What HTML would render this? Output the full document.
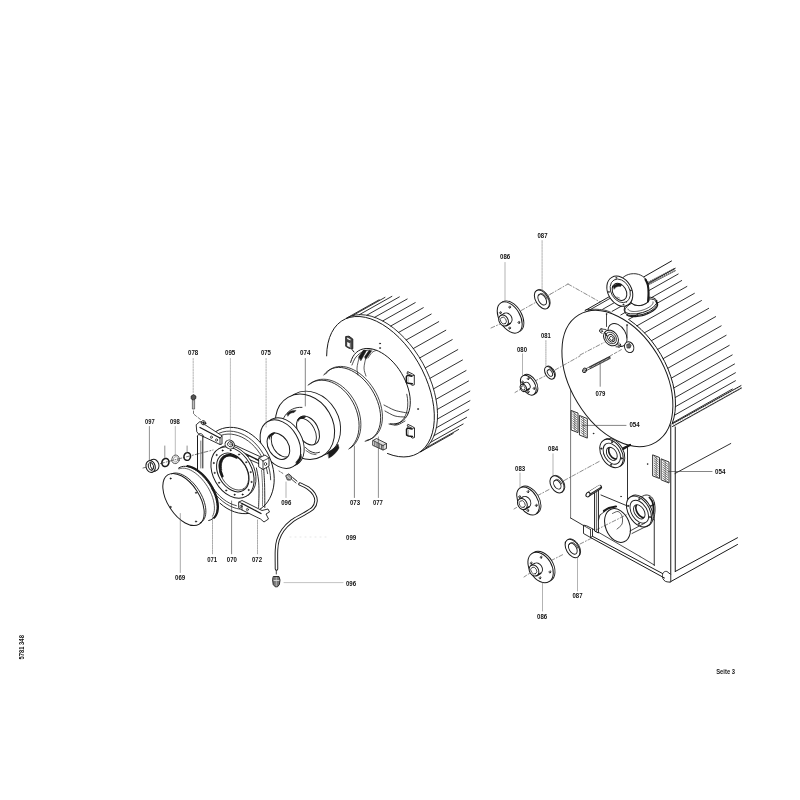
<!DOCTYPE html>
<html><head><meta charset="utf-8"><style>
html,body{margin:0;padding:0;background:#fff;}
svg{display:block;}
text{font-family:"Liberation Sans",sans-serif;}
svg{will-change:transform;}
</style></head><body>
<svg width="800" height="800" viewBox="0 0 800 800" stroke-linecap="round" stroke-linejoin="round">
<rect width="800" height="800" fill="#fff"/>
<line x1="346.66" y1="318.08" x2="379.16" y2="299.78" stroke="#1a1a1a" stroke-width="0.9"/>
<line x1="352.46" y1="315.71" x2="384.96" y2="297.41" stroke="#1a1a1a" stroke-width="0.9"/>
<line x1="359.37" y1="314.67" x2="391.87" y2="296.37" stroke="#1a1a1a" stroke-width="0.9"/>
<line x1="366.83" y1="315.21" x2="399.33" y2="296.91" stroke="#1a1a1a" stroke-width="0.9"/>
<line x1="374.67" y1="317.32" x2="407.17" y2="299.02" stroke="#1a1a1a" stroke-width="0.9"/>
<line x1="382.71" y1="320.94" x2="415.21" y2="302.64" stroke="#1a1a1a" stroke-width="0.9"/>
<line x1="390.77" y1="326.01" x2="423.27" y2="307.71" stroke="#1a1a1a" stroke-width="0.9"/>
<line x1="398.68" y1="332.39" x2="431.18" y2="314.09" stroke="#1a1a1a" stroke-width="0.9"/>
<line x1="406.24" y1="339.96" x2="438.74" y2="321.66" stroke="#1a1a1a" stroke-width="0.9"/>
<line x1="413.3" y1="348.54" x2="445.8" y2="330.24" stroke="#1a1a1a" stroke-width="0.9"/>
<line x1="419.7" y1="357.94" x2="452.2" y2="339.64" stroke="#1a1a1a" stroke-width="0.9"/>
<line x1="425.28" y1="367.94" x2="457.78" y2="349.64" stroke="#1a1a1a" stroke-width="0.9"/>
<line x1="429.93" y1="378.33" x2="462.43" y2="360.03" stroke="#1a1a1a" stroke-width="0.9"/>
<line x1="433.54" y1="388.86" x2="466.04" y2="370.56" stroke="#1a1a1a" stroke-width="0.9"/>
<line x1="436.03" y1="399.3" x2="468.53" y2="381" stroke="#1a1a1a" stroke-width="0.9"/>
<line x1="437.35" y1="409.42" x2="469.85" y2="391.12" stroke="#1a1a1a" stroke-width="0.9"/>
<line x1="437.45" y1="418.99" x2="469.95" y2="400.69" stroke="#1a1a1a" stroke-width="0.9"/>
<line x1="436.35" y1="427.79" x2="468.85" y2="409.49" stroke="#1a1a1a" stroke-width="0.9"/>
<line x1="434.06" y1="435.63" x2="466.56" y2="417.33" stroke="#1a1a1a" stroke-width="0.9"/>
<line x1="430.64" y1="442.32" x2="463.14" y2="424.02" stroke="#1a1a1a" stroke-width="0.9"/>
<line x1="426.17" y1="447.73" x2="458.67" y2="429.43" stroke="#1a1a1a" stroke-width="0.9"/>
<line x1="420.74" y1="451.72" x2="453.24" y2="433.42" stroke="#1a1a1a" stroke-width="0.9"/>
<path d="M326.65,355.87 L327.01,349.35 L327.97,343.24 L329.53,337.63 L331.66,332.57 L334.34,328.12 L337.55,324.34 L341.24,321.26 L345.37,318.92 L349.91,317.34 L354.78,316.55 L359.95,316.55 L365.35,317.35 L370.92,318.92 L376.6,321.27 L382.33,324.35 L388.03,328.14 L393.65,332.58 L399.11,337.64 L404.37,343.26 L409.36,349.36 L414.03,355.89 L418.31,362.76 L422.17,369.91 L425.55,377.24 L428.43,384.69 L430.77,392.15 L432.53,399.55 L433.71,406.81 L434.29,413.84 L434.26,420.57 L433.63,426.91 L432.39,432.79 L430.57,438.16 L428.18,442.94 L425.25,447.09 L421.82,450.56 L417.92,453.31 L413.6,455.3 L408.9,456.52 L403.88,456.95 L398.6,456.58 L393.11,455.43 L387.49,453.5" stroke="#1a1a1a" stroke-width="1.0" fill="none" />
<path d="M346.66,318.08 L350.95,316.18 L355.6,315.03 L360.55,314.65 L365.76,315.04 L371.17,316.2 L376.71,318.1 L382.33,320.74 L387.97,324.08 L393.56,328.09 L399.04,332.72 L404.35,337.92 L409.44,343.64 L414.24,349.81 L418.71,356.36 L422.8,363.23 L426.45,370.33 L429.64,377.6 L432.33,384.94 L434.48,392.28 L436.08,399.54 L437.1,406.64 L437.54,413.51 L437.39,420.06 L436.65,426.22 L435.32,431.93 L433.44,437.13 L431.01,441.75 L428.06,445.76 L424.62,449.09 L420.74,451.72" stroke="#1a1a1a" stroke-width="0.9" fill="none" />
<path d="M350.64,362.44 L351.59,359.48 L352.86,356.81 L354.43,354.48 L356.28,352.49 L358.4,350.88 L360.76,349.67 L363.33,348.86 L366.09,348.47 L369.01,348.5 L372.04,348.95 L375.17,349.81 L378.35,351.08 L381.55,352.75 L384.73,354.78 L387.85,357.16 L390.89,359.87 L393.81,362.87 L396.58,366.13 L399.16,369.62 L401.52,373.29 L403.65,377.1 L405.51,381.02 L407.09,384.99 L408.37,388.98 L409.33,392.93 L409.97,396.81 L410.27,400.57 L410.23,404.17 L409.85,407.58 L409.15,410.74 L408.12,413.63 L406.77,416.21 L405.13,418.46 L403.2,420.35 L401.02,421.86 L398.61,422.97 L395.98,423.68 L393.18,423.96 L390.23,423.83" stroke="#1a1a1a" stroke-width="1.0" fill="none" />
<path d="M406.79,394.25 L407.47,398.33 L407.77,402.28 L407.7,406.05 L407.26,409.6 L406.46,412.87 L405.29,415.84 L403.78,418.46 L401.95,420.7 L399.82,422.53 L397.42,423.94 L394.76,424.89" stroke="#1a1a1a" stroke-width="0.8" fill="none" />
<path d="M358.5,357 L363.5,350 L366.5,350.5 L361,360.5 Z" stroke="#1a1a1a" stroke-width="0.5" fill="#1a1a1a" />
<path d="M364.5,357 L369,350.3 L371.5,351 L366,359 Z" stroke="#1a1a1a" stroke-width="0.5" fill="#1a1a1a" />
<path d="M368,358 C368.67,357.08 370.67,353.75 372,352.5 C373.33,351.25 375.33,350.83 376,350.5" stroke="#1a1a1a" stroke-width="0.7" fill="none" />
<path d="M352,365 C352.67,363.67 354,359.33 356,357 C358,354.67 361.33,352.17 364,351 C366.67,349.83 370.67,350.17 372,350" stroke="#1a1a1a" stroke-width="0.8" fill="none" />
<path d="M359,358 C358.67,359.67 357.17,365.17 357,368 C356.83,370.83 357.83,373.83 358,375" stroke="#1a1a1a" stroke-width="0.7" fill="none" />
<path d="M366,357 C365.67,358.83 364,364.83 364,368 C364,371.17 365.67,374.67 366,376" stroke="#1a1a1a" stroke-width="0.7" fill="none" />
<path d="M384,405 C385.67,405.83 391,408.83 394,410 C397,411.17 399.67,411.5 402,412 C404.33,412.5 407,412.83 408,413" stroke="#1a1a1a" stroke-width="0.8" fill="none" />
<path d="M385,411 C386.67,411.83 391.67,415 395,416 C398.33,417 403.33,416.83 405,417" stroke="#1a1a1a" stroke-width="0.8" fill="none" />
<path d="M389,424 C390.33,424.17 394.33,425.5 397,425 C399.67,424.5 403.67,421.67 405,421" stroke="#1a1a1a" stroke-width="0.8" fill="none" />
<path d="M346,336.5 L349,336.2 L352.8,339 L352.8,348.8 L349.5,348.5 L346,346.5Z" stroke="#1a1a1a" stroke-width="0.9" fill="#444" />
<path d="M347.2,342 L349.8,343.2 L349.8,347.3 L347.2,346Z" stroke="#1a1a1a" stroke-width="0" fill="#fff" />
<path d="M347.2,337.5 L350.5,339.2 L350.5,340.6 L347.2,339Z" stroke="#1a1a1a" stroke-width="0" fill="#fff" />
<line x1="350.6" y1="343" x2="350.6" y2="348.3" stroke="#999" stroke-width="0.6"/>
<line x1="352" y1="349.5" x2="354" y2="352" stroke="#1a1a1a" stroke-width="1.0"/>
<path d="M407.8,371.8 L412.3,373.8 L414.3,375.3 L414.3,384.8 L412.3,385.40000000000003 L410.8,384.3" stroke="#1a1a1a" stroke-width="0.9" fill="none" />
<path d="M407.8,371.8 L406.8,373.3 L412.3,375.6 L414.3,375.3" stroke="#1a1a1a" stroke-width="0.8" fill="none" />
<path d="M411.8,376.3 L407.3,375.3 L406.3,376.8 L406.40000000000003,382.3 L408.3,383.3 L412.3,383.8" stroke="#1a1a1a" stroke-width="1.5" fill="none" />
<line x1="408.2" y1="377.3" x2="408.2" y2="382.3" stroke="#888" stroke-width="0.6"/>
<path d="M408,424.5 L412.5,426.5 L414.5,428.0 L414.5,437.5 L412.5,438.1 L411,437.0" stroke="#1a1a1a" stroke-width="0.9" fill="none" />
<path d="M408,424.5 L407,426.0 L412.5,428.3 L414.5,428.0" stroke="#1a1a1a" stroke-width="0.8" fill="none" />
<path d="M412,429.0 L407.5,428.0 L406.5,429.5 L406.6,435.0 L408.5,436.0 L412.5,436.5" stroke="#1a1a1a" stroke-width="1.5" fill="none" />
<line x1="408.4" y1="430" x2="408.4" y2="435" stroke="#888" stroke-width="0.6"/>
<ellipse cx="380" cy="343.5" rx="0.6" ry="0.6" transform="rotate(0 380 343.5)" stroke="#1a1a1a" stroke-width="0.5" fill="#1a1a1a" />
<ellipse cx="380" cy="348" rx="0.6" ry="0.6" transform="rotate(0 380 348)" stroke="#1a1a1a" stroke-width="0.5" fill="#1a1a1a" />
<ellipse cx="418" cy="409" rx="0.6" ry="0.6" transform="rotate(0 418 409)" stroke="#1a1a1a" stroke-width="0.5" fill="#1a1a1a" />
<path d="M373,440.5 L376.5,438.5 L386.5,443.5 L386.5,448.5 L383,450 L373,445.5Z" stroke="#1a1a1a" stroke-width="0.8" fill="#ddd" />
<line x1="373" y1="440.5" x2="383" y2="445.5" stroke="#1a1a1a" stroke-width="0.7"/>
<line x1="383" y1="445.5" x2="386.5" y2="443.5" stroke="#1a1a1a" stroke-width="0.7"/>
<line x1="383" y1="445.5" x2="383" y2="450" stroke="#1a1a1a" stroke-width="0.7"/>
<line x1="374.8" y1="441.8" x2="374.8" y2="445.5" stroke="#333" stroke-width="0.8"/>
<line x1="377" y1="442.9" x2="377" y2="446.6" stroke="#333" stroke-width="0.8"/>
<line x1="379.2" y1="444" x2="379.2" y2="447.7" stroke="#333" stroke-width="0.8"/>
<line x1="381.4" y1="445.1" x2="381.4" y2="448.8" stroke="#333" stroke-width="0.8"/>
<path d="M323.83,375.03 L325.69,372.78 L327.83,370.9 L330.22,369.41 L332.84,368.32 L335.66,367.65 L338.64,367.4 L341.76,367.57 L344.96,368.17 L348.23,369.19 L351.52,370.62 L354.78,372.43 L358,374.62 L361.12,377.14 L364.11,379.99 L366.94,383.11 L369.58,386.48 L371.99,390.05 L374.15,393.8 L376.03,397.66 L377.61,401.61 L378.88,405.59 L379.81,409.55 L380.4,413.46 L380.64,417.26 L380.52,420.92 L380.06,424.39 L379.25,427.63 L378.11,430.6 L376.64,433.28 L374.86,435.62 L372.8,437.6 L370.48,439.21 L367.92,440.41 L365.15,441.21" stroke="#1a1a1a" stroke-width="0.9" fill="none" />
<path d="M325.63,374.03 L327.49,371.78 L329.63,369.9 L332.02,368.41 L334.64,367.32 L337.46,366.65 L340.44,366.4 L343.56,366.57 L346.76,367.17 L350.03,368.19 L353.32,369.62 L356.58,371.43 L359.8,373.62 L362.92,376.14 L365.91,378.99 L368.74,382.11 L371.38,385.48 L373.79,389.05 L375.95,392.8 L377.83,396.66 L379.41,400.61 L380.68,404.59 L381.61,408.55 L382.2,412.46 L382.44,416.26 L382.32,419.92 L381.86,423.39 L381.05,426.63 L379.91,429.6 L378.44,432.28 L376.66,434.62 L374.6,436.6 L372.28,438.21 L369.72,439.41 L366.95,440.21" stroke="#1a1a1a" stroke-width="0.81" fill="none" />
<path d="M308.1,385.11 L310.49,383.35 L313.09,381.96 L315.87,380.97 L318.8,380.38 L321.86,380.21 L324.99,380.45 L328.17,381.1 L331.37,382.15 L334.54,383.59 L337.64,385.41 L340.65,387.58 L343.53,390.08 L346.25,392.88 L348.77,395.95 L351.07,399.26 L353.12,402.76 L354.89,406.41 L356.37,410.19 L357.55,414.03 L358.39,417.9 L358.91,421.76 L359.09,425.55 L358.92,429.25 L358.42,432.8 L357.58,436.16 L356.42,439.3 L354.95,442.18 L353.19,444.76 L351.15,447.03 L348.86,448.95" stroke="#1a1a1a" stroke-width="0.9" fill="none" />
<path d="M309.9,384.11 L312.29,382.35 L314.89,380.96 L317.67,379.97 L320.6,379.38 L323.66,379.21 L326.79,379.45 L329.97,380.1 L333.17,381.15 L336.34,382.59 L339.44,384.41 L342.45,386.58 L345.33,389.08 L348.05,391.88 L350.57,394.95 L352.87,398.26 L354.92,401.76 L356.69,405.41 L358.17,409.19 L359.35,413.03 L360.19,416.9 L360.71,420.76 L360.89,424.55 L360.72,428.25 L360.22,431.8 L359.38,435.16 L358.22,438.3 L356.75,441.18 L354.99,443.76 L352.95,446.03 L350.66,447.95" stroke="#1a1a1a" stroke-width="0.81" fill="none" />
<ellipse cx="311" cy="423.8" rx="34" ry="28" transform="rotate(60 311 423.8)" stroke="#1a1a1a" stroke-width="0.9" fill="#fff" />
<ellipse cx="305" cy="426.8" rx="34" ry="28" transform="rotate(60 305 426.8)" stroke="#1a1a1a" stroke-width="1.0" fill="#fff" />
<path d="M283.03,419.64 L284.06,417.36 L285.33,415.26 L286.84,413.36 L288.56,411.69 L290.47,410.26 L292.55,409.1 L294.77,408.22 L297.1,407.64 L299.52,407.36 L301.98,407.38" stroke="#1a1a1a" stroke-width="0.9" fill="none" />
<path d="M305.5,447.5 C306.25,448.12 308.33,450.28 310,451.2 C311.67,452.12 313.92,452.83 315.5,453 C317.08,453.17 318.83,452.33 319.5,452.2" stroke="#1a1a1a" stroke-width="0.9" fill="none" />
<path d="M306,450.5 C306.83,451.02 309.33,452.92 311,453.6 C312.67,454.28 315.17,454.43 316,454.6" stroke="#1a1a1a" stroke-width="0.7" fill="none" />
<ellipse cx="308" cy="430.5" rx="15.4" ry="10.2" transform="rotate(62 308 430.5)" stroke="#1a1a1a" stroke-width="1.0" fill="none" />
<clipPath id="c1"><ellipse cx="308" cy="430.5" rx="15.4" ry="10.2" transform="rotate(62 308 430.5)"/></clipPath>
<g clip-path="url(#c1)">
<ellipse cx="304.8" cy="432.7" rx="15.4" ry="10.2" transform="rotate(62 304.8 432.7)" stroke="#1a1a1a" stroke-width="0.9" fill="none" />
</g>
<path d="M297.5,420 C299,416.5 303,415.5 306,416.5 L304,418.5 C301,418 299,419 298.5,421 Z" stroke="#1a1a1a" stroke-width="0.5" fill="#1a1a1a" />
<path d="M287,414 C289,411 293,410 296,410.5 L294,412.5 C291,412.5 289,414 288,416 Z" stroke="#1a1a1a" stroke-width="0.5" fill="#1a1a1a" />
<path d="M328,452 C332,450 336,447 338,444 L339,448 C337,452 333,456 329,458 Z" stroke="#1a1a1a" stroke-width="0.5" fill="#1a1a1a" />
<ellipse cx="283.9" cy="442.1" rx="25.9" ry="18.2" transform="rotate(60.7 283.9 442.1)" stroke="#1a1a1a" stroke-width="0.9" fill="#fff" />
<ellipse cx="280.4" cy="444.1" rx="25.9" ry="18.2" transform="rotate(60.7 280.4 444.1)" stroke="#1a1a1a" stroke-width="1.0" fill="#fff" />
<ellipse cx="278.4" cy="446.2" rx="14.2" ry="10" transform="rotate(57.7 278.4 446.2)" stroke="#1a1a1a" stroke-width="1.0" fill="none" />
<clipPath id="c2"><ellipse cx="278.4" cy="446.2" rx="14.2" ry="10" transform="rotate(57.7 278.4 446.2)"/></clipPath>
<g clip-path="url(#c2)">
<ellipse cx="282.6" cy="443.8" rx="14.2" ry="10" transform="rotate(57.7 282.6 443.8)" stroke="#1a1a1a" stroke-width="0.9" fill="none" />
</g>
<path d="M268.5,437 C270,434 272.5,432.5 275,432.5 L273.5,434.5 C271.5,435 270,436.5 269.5,439 Z" stroke="#1a1a1a" stroke-width="0.5" fill="#1a1a1a" />
<path d="M296,462 C298,460 300,457 301,454 L301.5,457.5 C300.5,460.5 299,463 297,464.5 Z" stroke="#1a1a1a" stroke-width="0.5" fill="#1a1a1a" />
<ellipse cx="237.8" cy="470.5" rx="44.8" ry="34.4" transform="rotate(65.4 237.8 470.5)" stroke="#1a1a1a" stroke-width="0" fill="#fff" />
<path d="M213.06,433.63 L215.98,431.49 L219.15,429.77 L222.52,428.49 L226.06,427.68 L229.73,427.33 L233.48,427.46 L237.29,428.06 L241.1,429.13 L244.87,430.65 L248.57,432.6 L252.14,434.97 L255.56,437.73 L258.79,440.85 L261.78,444.29 L264.52,448.02 L266.96,452 L269.08,456.18 L270.86,460.52 L272.27,464.96 L273.31,469.47 L273.96,473.99 L274.21,478.47 L274.07,482.86 L273.52,487.11 L272.59,491.19 L271.27,495.04 L269.59,498.62 L267.56,501.89 L265.2,504.81 L262.54,507.37 L259.62,509.51 L256.45,511.23 L253.08,512.51 L249.54,513.32 L245.87,513.67 L242.12,513.54 L238.31,512.94 L234.5,511.87 L230.73,510.35 L227.03,508.4 L223.46,506.03 L220.04,503.27" stroke="#1a1a1a" stroke-width="1.0" fill="none" />
<path d="M216.44,434.67 L219.55,433.08 L222.86,431.95 L226.33,431.3 L229.93,431.13 L233.6,431.45 L237.31,432.25 L241.01,433.53 L244.66,435.26 L248.22,437.42 L251.63,440 L254.87,442.96 L257.89,446.27 L260.66,449.88 L263.14,453.75 L265.3,457.84 L267.13,462.1 L268.59,466.47 L269.67,470.92 L270.36,475.37 L270.64,479.78" stroke="#1a1a1a" stroke-width="0.8" fill="none" />
<path d="M221.42,435.21 L224.64,434.41 L227.98,434.07 L231.41,434.17 L234.9,434.72 L238.39,435.72 L241.86,437.15 L245.26,439 L248.54,441.24 L251.68,443.86 L254.63,446.81 L257.37,450.06 L259.85,453.58 L262.06,457.33 L263.96,461.25 L265.53,465.32 L266.76,469.47 L267.63,473.66" stroke="#1a1a1a" stroke-width="0.8" fill="none" />
<path d="M240.05,509.15 L236.53,508.47 L233.01,507.35 L229.52,505.8 L226.12,503.84 L222.83,501.48 L219.69,498.77 L216.74,495.72 L214.01,492.37 L211.54,488.76" stroke="#1a1a1a" stroke-width="0.8" fill="none" />
<path d="M236.36,505.64 L232.97,504.6 L229.61,503.14 L226.32,501.26 L223.13,498.99 L220.09,496.36 L217.23,493.4 L214.59,490.14 L212.19,486.63" stroke="#1a1a1a" stroke-width="0.8" fill="none" />
<path d="M256.4,468 C256.75,470 258.07,476 258.5,480 C258.93,484 258.98,487.42 259,492 C259.02,496.58 258.67,504.92 258.6,507.5" stroke="#1a1a1a" stroke-width="0.9" fill="none" />
<path d="M263.7,469 C263.85,471.67 264.42,478.58 264.6,485 C264.78,491.42 264.77,503.75 264.8,507.5" stroke="#1a1a1a" stroke-width="0.9" fill="none" />
<path d="M261.5,470 C261.67,472.5 262.33,479 262.5,485 C262.67,491 262.5,502.5 262.5,506" stroke="#1a1a1a" stroke-width="0.6" fill="none" />
<path d="M228,442 L262,457.5 L262,465 L232,452Z" stroke="#1a1a1a" stroke-width="0.9" fill="#fff" />
<line x1="231" y1="447" x2="261" y2="461.5" stroke="#1a1a1a" stroke-width="1.4"/>
<ellipse cx="241" cy="453.5" rx="1.1" ry="1.3" transform="rotate(0 241 453.5)" stroke="#1a1a1a" stroke-width="0.7" fill="none" />
<ellipse cx="247" cy="456.5" rx="1.1" ry="1.3" transform="rotate(0 247 456.5)" stroke="#1a1a1a" stroke-width="0.7" fill="none" />
<path d="M259,458 L265,455 L269,458 L269,466 L263,469.5 L259,467Z" stroke="#1a1a1a" stroke-width="0.9" fill="#fff" />
<line x1="259" y1="458" x2="263" y2="461" stroke="#1a1a1a" stroke-width="0.8"/>
<line x1="263" y1="461" x2="269" y2="458" stroke="#1a1a1a" stroke-width="0.8"/>
<line x1="263" y1="461" x2="263" y2="469.5" stroke="#1a1a1a" stroke-width="0.8"/>
<ellipse cx="265.5" cy="464" rx="1.2" ry="1.5" transform="rotate(0 265.5 464)" stroke="#1a1a1a" stroke-width="0.7" fill="none" />
<ellipse cx="234.5" cy="471.3" rx="27.5" ry="19.3" transform="rotate(60.5 234.5 471.3)" stroke="#1a1a1a" stroke-width="0.8" fill="#fff" />
<ellipse cx="232.5" cy="472.5" rx="27.5" ry="19.3" transform="rotate(60.5 232.5 472.5)" stroke="#1a1a1a" stroke-width="1.0" fill="#fff" />
<ellipse cx="232.8" cy="472.5" rx="20.8" ry="14.3" transform="rotate(59.3 232.8 472.5)" stroke="#1a1a1a" stroke-width="1.0" fill="none" />
<ellipse cx="233.8" cy="472.3" rx="19.3" ry="13" transform="rotate(59.3 233.8 472.3)" stroke="#1a1a1a" stroke-width="0.7" fill="none" />
<path d="M222.32,476.2 L221.56,474.32 L220.95,472.43 L220.5,470.55 L220.21,468.69 L220.09,466.87 L220.14,465.13 L220.35,463.48 L220.73,461.93 L221.27,460.51 L221.97,459.24 L222.81,458.12 L223.79,457.17 L224.89,456.41 L226.1,455.84 L227.42,455.46 L228.81,455.29 L230.27,455.32 L231.78,455.56 L233.32,456 L234.88,456.63 L236.43,457.45" stroke="#1a1a1a" stroke-width="2.6" fill="none" />
<path d="M221.72,470.01 L221.47,468.26 L221.38,466.55 L221.44,464.91 L221.65,463.36 L222.02,461.91 L222.53,460.58 L223.18,459.38 L223.97,458.33 L224.88,457.43 L225.9,456.71 L227.03,456.15 L228.26,455.78 L229.56,455.6 L230.92,455.6 L232.34,455.79" stroke="#1a1a1a" stroke-width="0.7" fill="none" />
<ellipse cx="242.59" cy="494.52" rx="0.7" ry="0.7" transform="rotate(0 242.59 494.52)" stroke="#1a1a1a" stroke-width="0.4" fill="#1a1a1a" />
<ellipse cx="234.58" cy="494.7" rx="0.7" ry="0.7" transform="rotate(0 234.58 494.7)" stroke="#1a1a1a" stroke-width="0.4" fill="#1a1a1a" />
<ellipse cx="226.18" cy="490.48" rx="0.7" ry="0.7" transform="rotate(0 226.18 490.48)" stroke="#1a1a1a" stroke-width="0.4" fill="#1a1a1a" />
<ellipse cx="219.05" cy="482.7" rx="0.7" ry="0.7" transform="rotate(0 219.05 482.7)" stroke="#1a1a1a" stroke-width="0.4" fill="#1a1a1a" />
<ellipse cx="214.6" cy="472.9" rx="0.7" ry="0.7" transform="rotate(0 214.6 472.9)" stroke="#1a1a1a" stroke-width="0.4" fill="#1a1a1a" />
<ellipse cx="213.71" cy="463.03" rx="0.7" ry="0.7" transform="rotate(0 213.71 463.03)" stroke="#1a1a1a" stroke-width="0.4" fill="#1a1a1a" />
<ellipse cx="216.57" cy="455.02" rx="0.7" ry="0.7" transform="rotate(0 216.57 455.02)" stroke="#1a1a1a" stroke-width="0.4" fill="#1a1a1a" />
<ellipse cx="222.61" cy="450.48" rx="0.7" ry="0.7" transform="rotate(0 222.61 450.48)" stroke="#1a1a1a" stroke-width="0.4" fill="#1a1a1a" />
<ellipse cx="230.62" cy="450.3" rx="0.7" ry="0.7" transform="rotate(0 230.62 450.3)" stroke="#1a1a1a" stroke-width="0.4" fill="#1a1a1a" />
<ellipse cx="239.02" cy="454.52" rx="0.7" ry="0.7" transform="rotate(0 239.02 454.52)" stroke="#1a1a1a" stroke-width="0.4" fill="#1a1a1a" />
<ellipse cx="246.15" cy="462.3" rx="0.7" ry="0.7" transform="rotate(0 246.15 462.3)" stroke="#1a1a1a" stroke-width="0.4" fill="#1a1a1a" />
<ellipse cx="250.6" cy="472.1" rx="0.7" ry="0.7" transform="rotate(0 250.6 472.1)" stroke="#1a1a1a" stroke-width="0.4" fill="#1a1a1a" />
<ellipse cx="251.49" cy="481.97" rx="0.7" ry="0.7" transform="rotate(0 251.49 481.97)" stroke="#1a1a1a" stroke-width="0.4" fill="#1a1a1a" />
<ellipse cx="248.63" cy="489.98" rx="0.7" ry="0.7" transform="rotate(0 248.63 489.98)" stroke="#1a1a1a" stroke-width="0.4" fill="#1a1a1a" />
<ellipse cx="229.75" cy="444.5" rx="4.8" ry="4.3" transform="rotate(30 229.75 444.5)" stroke="#1a1a1a" stroke-width="0.9" fill="#fff" />
<ellipse cx="230.3" cy="444.3" rx="2.8" ry="2.5" transform="rotate(30 230.3 444.3)" stroke="#1a1a1a" stroke-width="0.8" fill="none" />
<ellipse cx="231" cy="444" rx="1.3" ry="1.2" transform="rotate(30 231 444)" stroke="#1a1a1a" stroke-width="0.6" fill="none" />
<path d="M196.5,424.5 L200,421.5 L220,434.5 L222,436 L222,444 L220,444.5 L199,434.5 L197,432Z" stroke="#1a1a1a" stroke-width="0.9" fill="#fff" />
<line x1="200" y1="427.5" x2="220" y2="438" stroke="#1a1a1a" stroke-width="1.3"/>
<line x1="220" y1="438" x2="222" y2="436" stroke="#1a1a1a" stroke-width="0.8"/>
<line x1="220" y1="438" x2="220" y2="444.5" stroke="#1a1a1a" stroke-width="0.8"/>
<ellipse cx="211.4" cy="437.2" rx="1" ry="1.2" transform="rotate(0 211.4 437.2)" stroke="#1a1a1a" stroke-width="0.7" fill="none" />
<ellipse cx="216.5" cy="440" rx="1" ry="1.2" transform="rotate(0 216.5 440)" stroke="#1a1a1a" stroke-width="0.7" fill="none" />
<ellipse cx="203.5" cy="422.8" rx="2.4" ry="2" transform="rotate(20 203.5 422.8)" stroke="#1a1a1a" stroke-width="0.9" fill="#fff" />
<ellipse cx="203.5" cy="422.8" rx="1" ry="0.8" transform="rotate(20 203.5 422.8)" stroke="#1a1a1a" stroke-width="0.6" fill="#1a1a1a" />
<path d="M197.5,436 L197.5,470" stroke="#1a1a1a" stroke-width="1.0" fill="none" />
<path d="M202.8,436 L202.8,468" stroke="#1a1a1a" stroke-width="1.0" fill="none" />
<path d="M200.8,441 L200.8,468" stroke="#1a1a1a" stroke-width="0.6" fill="none" />
<path d="M197.5,436 C197.83,435.58 198.67,433.75 199.5,433.5 C200.33,433.25 201.83,433.92 202.5,434.5 C203.17,435.08 203.33,436.58 203.5,437" stroke="#1a1a1a" stroke-width="0.8" fill="none" />
<path d="M239,502 L242,500.5 L262,510.5 L268,509 L269.5,512 L266,514 L268.5,519 L264,522 L260.5,519 L242,510 L239,508Z" stroke="#1a1a1a" stroke-width="0.9" fill="#fff" />
<line x1="242" y1="503.5" x2="261" y2="513.5" stroke="#1a1a1a" stroke-width="1.3"/>
<line x1="239" y1="502" x2="242" y2="503.5" stroke="#1a1a1a" stroke-width="0.8"/>
<line x1="242" y1="503.5" x2="242" y2="510" stroke="#1a1a1a" stroke-width="0.8"/>
<ellipse cx="241" cy="506.4" rx="1" ry="1.2" transform="rotate(0 241 506.4)" stroke="#1a1a1a" stroke-width="0.7" fill="none" />
<ellipse cx="247.4" cy="509.6" rx="1" ry="1.2" transform="rotate(0 247.4 509.6)" stroke="#1a1a1a" stroke-width="0.7" fill="none" />
<path d="M178.55,468.16 L180.05,467.26 L181.73,466.66 L183.57,466.35 L185.54,466.35 L187.62,466.65 L189.79,467.25 L192.02,468.15 L194.29,469.33 L196.58,470.78 L198.85,472.48 L201.08,474.42 L203.26,476.57 L205.34,478.91 L207.32,481.42 L209.16,484.06 L210.85,486.8 L212.37,489.62 L213.7,492.49 L214.83,495.36 L215.74,498.22 L216.42,501.02 L216.87,503.74 L217.08,506.34 L217.05,508.8 L216.78,511.09 L216.27,513.18 L215.53,515.05 L214.57,516.68 L213.39,518.05 L212.01,519.15 L210.44,519.96 L208.71,520.47" stroke="#1a1a1a" stroke-width="1.0" fill="none" />
<path d="M187.37,466 L189.47,466.43 L191.65,467.16 L193.88,468.16 L196.13,469.44 L198.39,470.98 L200.63,472.76 L202.82,474.77 L204.94,476.97 L206.97,479.35 L208.88,481.88 L210.65,484.53 L212.27,487.28 L213.72,490.09 L214.97,492.93 L216.02,495.77 L216.86,498.58 L217.47,501.33 L217.85,504 L218,506.54 L217.91,508.93 L217.58,511.15 L217.03,513.17 L216.24,514.97 L215.24,516.53 L214.03,517.84" stroke="#1a1a1a" stroke-width="2.0" fill="none" />
<path d="M178.98,468.93 L180.64,468.39 L182.44,468.16 L184.37,468.23 L186.42,468.6 L188.54,469.27 L190.73,470.23 L192.94,471.46 L195.17,472.96 L197.38,474.71 L199.55,476.69 L201.65,478.87 L203.66,481.22 L205.56,483.73 L207.31,486.37 L208.92,489.09 L210.34,491.88 L211.57,494.69 L212.6,497.51 L213.41,500.28 L213.99,502.99 L214.34,505.6 L214.45,508.08 L214.33,510.4 L213.96,512.54 L213.36,514.47 L212.54,516.17" stroke="#1a1a1a" stroke-width="0.7" fill="none" />
<ellipse cx="183.5" cy="499.5" rx="29.2" ry="15.9" transform="rotate(57.3 183.5 499.5)" stroke="#1a1a1a" stroke-width="1.0" fill="#fff" />
<path d="M171.73,473.78 L173.28,473.27 L174.97,473.04 L176.77,473.09 L178.68,473.42 L180.67,474.01 L182.71,474.88 L184.79,476 L186.88,477.36 L188.96,478.95 L191.01,480.76 L193,482.76 L194.91,484.92 L196.73,487.24 L198.42,489.67 L199.98,492.2 L201.38,494.8 L202.62,497.43 L203.67,500.08 L204.53,502.7 L205.18,505.28 L205.62,507.78 L205.84,510.18 L205.85,512.44 L205.64,514.56 L205.21,516.49 L204.57,518.22 L203.73,519.74 L202.69,521.02 L201.46,522.05 L200.07,522.82" stroke="#1a1a1a" stroke-width="0.9" fill="none" />
<ellipse cx="170.6" cy="478.5" rx="0.8" ry="0.8" transform="rotate(0 170.6 478.5)" stroke="#1a1a1a" stroke-width="0.3" fill="#1a1a1a" />
<ellipse cx="196" cy="492.75" rx="0.8" ry="0.8" transform="rotate(0 196 492.75)" stroke="#1a1a1a" stroke-width="0.3" fill="#1a1a1a" />
<ellipse cx="170.6" cy="507" rx="0.8" ry="0.8" transform="rotate(0 170.6 507)" stroke="#1a1a1a" stroke-width="0.3" fill="#1a1a1a" />
<ellipse cx="196" cy="521.5" rx="0.8" ry="0.8" transform="rotate(0 196 521.5)" stroke="#1a1a1a" stroke-width="0.3" fill="#1a1a1a" />
<line x1="143" y1="468" x2="213" y2="450" stroke="#1a1a1a" stroke-width="0.6" stroke-dasharray="4,2,1,2"/>
<ellipse cx="154.3" cy="465.1" rx="5.9" ry="4.6" transform="rotate(75 154.3 465.1)" stroke="#1a1a1a" stroke-width="1.0" fill="#fff" />
<path d="M152.13,472.2 L155.83,470.8 L152.77,459.4 L149.07,460.8Z" stroke="#1a1a1a" stroke-width="0" fill="#fff" />
<line x1="152.13" y1="472.2" x2="155.83" y2="470.8" stroke="#1a1a1a" stroke-width="1.0"/>
<line x1="149.07" y1="460.8" x2="152.77" y2="459.4" stroke="#1a1a1a" stroke-width="1.0"/>
<ellipse cx="150.6" cy="466.5" rx="5.9" ry="4.6" transform="rotate(75 150.6 466.5)" stroke="#1a1a1a" stroke-width="1.1" fill="#fff" />
<ellipse cx="150.9" cy="466.4" rx="4" ry="2.6" transform="rotate(75 150.9 466.4)" stroke="#1a1a1a" stroke-width="0.9" fill="none" />
<clipPath id="c3"><ellipse cx="150.9" cy="466.4" rx="4" ry="2.6" transform="rotate(75 150.9 466.4)"/></clipPath>
<g clip-path="url(#c3)">
<ellipse cx="153" cy="465.6" rx="4" ry="2.6" transform="rotate(75 153 465.6)" stroke="#1a1a1a" stroke-width="0.9" fill="none" />
</g>
<ellipse cx="165.4" cy="462.5" rx="3.5" ry="4.1" transform="rotate(15 165.4 462.5)" stroke="#1a1a1a" stroke-width="1.6" fill="none" />
<ellipse cx="175.6" cy="459.4" rx="3.7" ry="4.3" transform="rotate(15 175.6 459.4)" stroke="#555" stroke-width="0.9" fill="none" />
<ellipse cx="175.6" cy="459.4" rx="2.2" ry="2.8" transform="rotate(15 175.6 459.4)" stroke="#777" stroke-width="0.6" fill="none" />
<ellipse cx="187.25" cy="456.5" rx="3.3" ry="3.9" transform="rotate(15 187.25 456.5)" stroke="#1a1a1a" stroke-width="1.5" fill="none" />
<path d="M192.4,399 L192.4,409 L194.6,409 L194.6,399" stroke="#333" stroke-width="0.7" fill="#fff" />
<line x1="193.5" y1="400" x2="193.5" y2="408.5" stroke="#777" stroke-width="0.5"/>
<path d="M191.2,398.5 L191.2,396 L193.5,394.6 L195.8,396 L195.8,398.5 L193.5,399.8 Z" stroke="#1a1a1a" stroke-width="0.8" fill="#555" />
<line x1="193.5" y1="411" x2="193.5" y2="413.5" stroke="#1a1a1a" stroke-width="0.6"/>
<line x1="194.3" y1="414.5" x2="196.5" y2="416.4" stroke="#1a1a1a" stroke-width="0.6"/>
<line x1="198" y1="417.5" x2="200.5" y2="419.5" stroke="#1a1a1a" stroke-width="0.6"/>
<path d="M300,484 C301.33,484.67 305.67,486.33 308,488 C310.33,489.67 312.67,491.83 314,494 C315.33,496.17 316.17,498.67 316,501 C315.83,503.33 315,505.83 313,508 C311,510.17 307.5,511.83 304,514 C300.5,516.17 295.5,518.33 292,521 C288.5,523.67 285.33,526.83 283,530 C280.67,533.17 279.08,536.67 278,540 C276.92,543.33 276.75,545.17 276.5,550 C276.25,554.83 276.5,565.83 276.5,569" stroke="#1a1a1a" stroke-width="3.5" fill="none" />
<path d="M300,484 C301.33,484.67 305.67,486.33 308,488 C310.33,489.67 312.67,491.83 314,494 C315.33,496.17 316.17,498.67 316,501 C315.83,503.33 315,505.83 313,508 C311,510.17 307.5,511.83 304,514 C300.5,516.17 295.5,518.33 292,521 C288.5,523.67 285.33,526.83 283,530 C280.67,533.17 279.08,536.67 278,540 C276.92,543.33 276.75,545.17 276.5,550 C276.25,554.83 276.5,565.83 276.5,569" stroke="#fff" stroke-width="1.6" fill="none" />
<path d="M286,475.5 L288.8,473.8 L292.2,477 L290.8,480 L287.8,480Z" stroke="#1a1a1a" stroke-width="0.8" fill="#999" />
<line x1="287.3" y1="476.3" x2="290.3" y2="479" stroke="#fff" stroke-width="0.6"/>
<line x1="293" y1="477.8" x2="297" y2="481.2" stroke="#1a1a1a" stroke-width="1.0"/>
<line x1="292" y1="479.6" x2="296" y2="483" stroke="#1a1a1a" stroke-width="0.8"/>
<line x1="279" y1="471" x2="283" y2="473.5" stroke="#1a1a1a" stroke-width="0.6" stroke-dasharray="1.5,1.5"/>
<line x1="276.3" y1="570.5" x2="276.3" y2="574" stroke="#1a1a1a" stroke-width="0.8"/>
<path d="M273.6,576.5 L279,576.5 L280,580 L279.4,584.5 L277.5,586.8 L275.2,586.8 L273.2,584.5 L272.6,580 Z" stroke="#1a1a1a" stroke-width="0.9" fill="#777" />
<line x1="274" y1="580.5" x2="279" y2="580.5" stroke="#fff" stroke-width="0.7"/>
<line x1="276.3" y1="577.5" x2="276.3" y2="586" stroke="#ddd" stroke-width="0.6"/>
<text x="188" y="355.2" font-size="6.3" textLength="10.2" lengthAdjust="spacingAndGlyphs" fill="#111" font-weight="bold">078</text>
<text x="225" y="355.2" font-size="6.3" textLength="10.3" lengthAdjust="spacingAndGlyphs" fill="#111" font-weight="bold">095</text>
<text x="260.9" y="355.2" font-size="6.3" textLength="10.1" lengthAdjust="spacingAndGlyphs" fill="#111" font-weight="bold">075</text>
<text x="300" y="355.2" font-size="6.3" textLength="10.4" lengthAdjust="spacingAndGlyphs" fill="#111" font-weight="bold">074</text>
<text x="145" y="423.7" font-size="6.3" textLength="9.6" lengthAdjust="spacingAndGlyphs" fill="#111" font-weight="bold">097</text>
<text x="170" y="423.7" font-size="6.3" textLength="9.9" lengthAdjust="spacingAndGlyphs" fill="#111" font-weight="bold">098</text>
<text x="281.2" y="504.8" font-size="6.3" textLength="10.1" lengthAdjust="spacingAndGlyphs" fill="#111" font-weight="bold">096</text>
<text x="350" y="504.8" font-size="6.3" textLength="10.1" lengthAdjust="spacingAndGlyphs" fill="#111" font-weight="bold">073</text>
<text x="372.9" y="504.8" font-size="6.3" textLength="10" lengthAdjust="spacingAndGlyphs" fill="#111" font-weight="bold">077</text>
<text x="346" y="539.6" font-size="6.3" textLength="10.2" lengthAdjust="spacingAndGlyphs" fill="#111" font-weight="bold">099</text>
<text x="207.2" y="561.9" font-size="6.3" textLength="9.9" lengthAdjust="spacingAndGlyphs" fill="#111" font-weight="bold">071</text>
<text x="226.8" y="561.9" font-size="6.3" textLength="10.1" lengthAdjust="spacingAndGlyphs" fill="#111" font-weight="bold">070</text>
<text x="252" y="561.9" font-size="6.3" textLength="10.1" lengthAdjust="spacingAndGlyphs" fill="#111" font-weight="bold">072</text>
<text x="175" y="579.8" font-size="6.3" textLength="10.2" lengthAdjust="spacingAndGlyphs" fill="#111" font-weight="bold">069</text>
<text x="345.9" y="585.6" font-size="6.3" textLength="10.2" lengthAdjust="spacingAndGlyphs" fill="#111" font-weight="bold">096</text>
<line x1="193.2" y1="358.5" x2="193.2" y2="393" stroke="#666" stroke-width="0.5" stroke-dasharray="1.5,1.2"/>
<line x1="230.4" y1="358.5" x2="230.4" y2="439" stroke="#777" stroke-width="0.5" stroke-dasharray="2,1"/>
<line x1="266.1" y1="358.5" x2="266.1" y2="427" stroke="#666" stroke-width="0.5" stroke-dasharray="1.5,1.2"/>
<line x1="305.3" y1="358.5" x2="305.3" y2="406" stroke="#333" stroke-width="0.6"/>
<line x1="149.4" y1="426.5" x2="149.4" y2="460" stroke="#444" stroke-width="0.6"/>
<line x1="164.8" y1="446" x2="164.8" y2="458" stroke="#444" stroke-width="0.6"/>
<line x1="175.3" y1="426.5" x2="175.3" y2="455" stroke="#777" stroke-width="0.5"/>
<line x1="187.1" y1="446" x2="187.1" y2="452" stroke="#444" stroke-width="0.6"/>
<line x1="286" y1="482" x2="286" y2="497.5" stroke="#666" stroke-width="0.5"/>
<line x1="354.4" y1="446" x2="354.4" y2="497.5" stroke="#333" stroke-width="0.6"/>
<line x1="378.4" y1="437" x2="378.4" y2="497.5" stroke="#444" stroke-width="0.6"/>
<line x1="180.3" y1="513.5" x2="180.3" y2="572.5" stroke="#555" stroke-width="0.5"/>
<line x1="212.5" y1="517.5" x2="212.5" y2="553.8" stroke="#555" stroke-width="0.5" stroke-dasharray="1.5,1"/>
<line x1="231.6" y1="501" x2="231.6" y2="553.8" stroke="#333" stroke-width="0.6"/>
<line x1="257.5" y1="520" x2="257.5" y2="553.8" stroke="#555" stroke-width="0.5" stroke-dasharray="1.5,1"/>
<line x1="284" y1="582.6" x2="343" y2="582.6" stroke="#888" stroke-width="0.5"/>
<line x1="290" y1="537" x2="327" y2="537" stroke="#ccc" stroke-width="0.5" stroke-dasharray="1,4"/>
<text x="0" y="0" font-size="6.9" font-weight="bold" fill="#111" transform="translate(24.1,659.6) rotate(-90)" textLength="24.5" lengthAdjust="spacingAndGlyphs">5781 348</text>
<text x="716.2" y="673.6" font-size="7.3" font-weight="bold" fill="#222" textLength="18.8" lengthAdjust="spacingAndGlyphs">Seite 3</text>
<line x1="602.71" y1="309.25" x2="675.09" y2="268.36" stroke="#1a1a1a" stroke-width="0.9"/>
<line x1="612.13" y1="311.34" x2="678.17" y2="274.03" stroke="#1a1a1a" stroke-width="0.9"/>
<line x1="620.82" y1="314.93" x2="681.68" y2="280.55" stroke="#1a1a1a" stroke-width="0.9"/>
<line x1="628.54" y1="319.41" x2="686.88" y2="286.45" stroke="#1a1a1a" stroke-width="0.9"/>
<line x1="637.01" y1="325.78" x2="694.37" y2="293.37" stroke="#1a1a1a" stroke-width="0.9"/>
<line x1="644.46" y1="332.78" x2="701.47" y2="300.57" stroke="#1a1a1a" stroke-width="0.9"/>
<line x1="651.39" y1="340.7" x2="708.67" y2="308.34" stroke="#1a1a1a" stroke-width="0.9"/>
<line x1="657.67" y1="349.39" x2="715.63" y2="316.64" stroke="#1a1a1a" stroke-width="0.9"/>
<line x1="663.16" y1="358.65" x2="721.15" y2="325.88" stroke="#1a1a1a" stroke-width="0.9"/>
<line x1="667.74" y1="368.3" x2="726.1" y2="335.33" stroke="#1a1a1a" stroke-width="0.9"/>
<line x1="671.32" y1="378.13" x2="729.22" y2="345.42" stroke="#1a1a1a" stroke-width="0.9"/>
<line x1="673.83" y1="387.94" x2="732.18" y2="354.97" stroke="#1a1a1a" stroke-width="0.9"/>
<line x1="675.21" y1="397.51" x2="734.5" y2="364.02" stroke="#1a1a1a" stroke-width="0.9"/>
<line x1="675.44" y1="406.66" x2="735.42" y2="372.77" stroke="#1a1a1a" stroke-width="0.9"/>
<line x1="674.5" y1="415.19" x2="735.45" y2="380.75" stroke="#1a1a1a" stroke-width="0.9"/>
<line x1="672.42" y1="422.92" x2="732.42" y2="389.02" stroke="#1a1a1a" stroke-width="0.9"/>
<line x1="585" y1="310.6" x2="671.5" y2="261" stroke="#1a1a1a" stroke-width="1.0"/>
<line x1="587.5" y1="311.2" x2="640" y2="281.3" stroke="#1a1a1a" stroke-width="0.9"/>
<line x1="648.7" y1="281.8" x2="649.5" y2="284" stroke="#1a1a1a" stroke-width="0.6"/>
<line x1="650.6" y1="280.8" x2="651.4" y2="283" stroke="#1a1a1a" stroke-width="0.6"/>
<line x1="652.5" y1="279.8" x2="653.3" y2="282" stroke="#1a1a1a" stroke-width="0.6"/>
<line x1="654.4" y1="278.8" x2="655.2" y2="281" stroke="#1a1a1a" stroke-width="0.6"/>
<line x1="656.3" y1="277.8" x2="657.1" y2="280" stroke="#1a1a1a" stroke-width="0.6"/>
<line x1="658.2" y1="276.8" x2="659" y2="279" stroke="#1a1a1a" stroke-width="0.6"/>
<line x1="660.1" y1="275.8" x2="660.9" y2="278" stroke="#1a1a1a" stroke-width="0.6"/>
<line x1="662" y1="274.8" x2="662.8" y2="277" stroke="#1a1a1a" stroke-width="0.6"/>
<line x1="663.9" y1="273.8" x2="664.7" y2="276" stroke="#1a1a1a" stroke-width="0.6"/>
<line x1="665.8" y1="272.8" x2="666.6" y2="275" stroke="#1a1a1a" stroke-width="0.6"/>
<line x1="667.7" y1="271.8" x2="668.5" y2="274" stroke="#1a1a1a" stroke-width="0.6"/>
<line x1="669.6" y1="270.8" x2="670.4" y2="273" stroke="#1a1a1a" stroke-width="0.6"/>
<line x1="671.5" y1="269.8" x2="672.3" y2="272" stroke="#1a1a1a" stroke-width="0.6"/>
<line x1="673.4" y1="268.8" x2="674.2" y2="271" stroke="#1a1a1a" stroke-width="0.6"/>
<line x1="649" y1="282" x2="675" y2="268.5" stroke="#1a1a1a" stroke-width="0.6"/>
<line x1="649.6" y1="284.2" x2="675.6" y2="270.6" stroke="#1a1a1a" stroke-width="0.6"/>
<line x1="672" y1="424" x2="741" y2="385.6" stroke="#1a1a1a" stroke-width="1.0"/>
<line x1="672.5" y1="426.5" x2="741.5" y2="388" stroke="#1a1a1a" stroke-width="1.0"/>
<line x1="673.5" y1="424.3" x2="674.1" y2="426.1" stroke="#555" stroke-width="0.4"/>
<line x1="675.8" y1="423.02" x2="676.4" y2="424.82" stroke="#555" stroke-width="0.4"/>
<line x1="678.1" y1="421.74" x2="678.7" y2="423.54" stroke="#555" stroke-width="0.4"/>
<line x1="680.4" y1="420.46" x2="681" y2="422.26" stroke="#555" stroke-width="0.4"/>
<line x1="682.7" y1="419.18" x2="683.3" y2="420.98" stroke="#555" stroke-width="0.4"/>
<line x1="685" y1="417.89" x2="685.6" y2="419.69" stroke="#555" stroke-width="0.4"/>
<line x1="687.3" y1="416.61" x2="687.9" y2="418.41" stroke="#555" stroke-width="0.4"/>
<line x1="689.6" y1="415.33" x2="690.2" y2="417.13" stroke="#555" stroke-width="0.4"/>
<line x1="691.9" y1="414.05" x2="692.5" y2="415.85" stroke="#555" stroke-width="0.4"/>
<line x1="694.2" y1="412.77" x2="694.8" y2="414.57" stroke="#555" stroke-width="0.4"/>
<line x1="696.5" y1="411.49" x2="697.1" y2="413.29" stroke="#555" stroke-width="0.4"/>
<line x1="698.8" y1="410.21" x2="699.4" y2="412.01" stroke="#555" stroke-width="0.4"/>
<line x1="701.1" y1="408.93" x2="701.7" y2="410.73" stroke="#555" stroke-width="0.4"/>
<line x1="703.4" y1="407.65" x2="704" y2="409.45" stroke="#555" stroke-width="0.4"/>
<line x1="705.7" y1="406.36" x2="706.3" y2="408.16" stroke="#555" stroke-width="0.4"/>
<line x1="708" y1="405.08" x2="708.6" y2="406.88" stroke="#555" stroke-width="0.4"/>
<line x1="710.3" y1="403.8" x2="710.9" y2="405.6" stroke="#555" stroke-width="0.4"/>
<line x1="712.6" y1="402.52" x2="713.2" y2="404.32" stroke="#555" stroke-width="0.4"/>
<line x1="714.9" y1="401.24" x2="715.5" y2="403.04" stroke="#555" stroke-width="0.4"/>
<line x1="717.2" y1="399.96" x2="717.8" y2="401.76" stroke="#555" stroke-width="0.4"/>
<line x1="719.5" y1="398.68" x2="720.1" y2="400.48" stroke="#555" stroke-width="0.4"/>
<line x1="721.8" y1="397.4" x2="722.4" y2="399.2" stroke="#555" stroke-width="0.4"/>
<line x1="724.1" y1="396.12" x2="724.7" y2="397.92" stroke="#555" stroke-width="0.4"/>
<line x1="726.4" y1="394.83" x2="727" y2="396.63" stroke="#555" stroke-width="0.4"/>
<line x1="728.7" y1="393.55" x2="729.3" y2="395.35" stroke="#555" stroke-width="0.4"/>
<line x1="731" y1="392.27" x2="731.6" y2="394.07" stroke="#555" stroke-width="0.4"/>
<line x1="733.3" y1="390.99" x2="733.9" y2="392.79" stroke="#555" stroke-width="0.4"/>
<line x1="735.6" y1="389.71" x2="736.2" y2="391.51" stroke="#555" stroke-width="0.4"/>
<line x1="737.9" y1="388.43" x2="738.5" y2="390.23" stroke="#555" stroke-width="0.4"/>
<line x1="740.2" y1="387.15" x2="740.8" y2="388.95" stroke="#555" stroke-width="0.4"/>
<line x1="675.25" y1="571.5" x2="737.5" y2="537.75" stroke="#1a1a1a" stroke-width="1.0"/>
<line x1="670" y1="582" x2="737.5" y2="544.5" stroke="#1a1a1a" stroke-width="1.0"/>
<line x1="675" y1="473.5" x2="730.75" y2="443.5" stroke="#1a1a1a" stroke-width="0.9"/>
<line x1="670.75" y1="425" x2="670.75" y2="574.5" stroke="#1a1a1a" stroke-width="1.0"/>
<line x1="675.25" y1="427" x2="675.25" y2="571.5" stroke="#1a1a1a" stroke-width="1.0"/>
<path d="M662.5,575 C662.5,572 665,571 667,571.5 L670.75,574.5 L670.75,582 L668,582 C664.5,582 662.5,579 662.5,577 Z" stroke="#1a1a1a" stroke-width="0.9" fill="#fff" />
<line x1="570.6" y1="388" x2="570.6" y2="518" stroke="#555" stroke-width="0.8"/>
<line x1="570.6" y1="518" x2="583.5" y2="525.5" stroke="#1a1a1a" stroke-width="0.9"/>
<path d="M583.5,525.5 L583.5,533.5 L590.5,537.5 L592.5,536.3 L592.5,528.8 L587,526Z" stroke="#1a1a1a" stroke-width="0.9" fill="#fff" />
<line x1="583.5" y1="525.5" x2="590.5" y2="529.5" stroke="#1a1a1a" stroke-width="0.8"/>
<line x1="590.5" y1="529.5" x2="590.5" y2="537.5" stroke="#1a1a1a" stroke-width="0.8"/>
<line x1="592.5" y1="536.3" x2="662.5" y2="573.5" stroke="#1a1a1a" stroke-width="1.0"/>
<line x1="590.5" y1="537.5" x2="664.5" y2="578" stroke="#1a1a1a" stroke-width="1.0"/>
<line x1="592.5" y1="528.8" x2="640" y2="556.5" stroke="#1a1a1a" stroke-width="0.8"/>
<line x1="627.5" y1="446" x2="627.5" y2="499" stroke="#1a1a1a" stroke-width="0.9"/>
<line x1="601" y1="495" x2="627.5" y2="506" stroke="#1a1a1a" stroke-width="0.9"/>
<line x1="627.5" y1="506" x2="654.25" y2="520" stroke="#1a1a1a" stroke-width="0.9"/>
<line x1="654.25" y1="502.5" x2="654.25" y2="565.5" stroke="#1a1a1a" stroke-width="0.9"/>
<line x1="640" y1="556.5" x2="654.25" y2="565" stroke="#1a1a1a" stroke-width="0.8"/>
<ellipse cx="617.4" cy="378.5" rx="74.4" ry="46.6" transform="rotate(58.7 617.4 378.5)" stroke="#1a1a1a" stroke-width="1.0" fill="#fff" />
<path d="M629.49,320.05 L635.39,324.44 L641.1,329.45 L646.56,335.03 L651.71,341.11 L656.48,347.61 L660.82,354.46 L664.67,361.58 L667.99,368.89 L670.73,376.29 L672.88,383.7 L674.4,391.03 L675.27,398.19 L675.48,405.1 L675.04,411.68 L673.94,417.85 L672.2,423.53" stroke="#1a1a1a" stroke-width="1.0" fill="none" />
<path d="M586,309.6 C587.83,309.55 593.67,309.15 597,309.3 C600.33,309.45 603.67,309.97 606,310.5 C608.33,311.03 610.17,312.17 611,312.5" stroke="#1a1a1a" stroke-width="0.8" fill="none" />
<line x1="606.5" y1="314" x2="606.5" y2="326.5" stroke="#1a1a1a" stroke-width="0.8"/>
<line x1="627" y1="325" x2="627" y2="338" stroke="#1a1a1a" stroke-width="0.8"/>
<ellipse cx="606.5" cy="314" rx="0.6" ry="0.6" transform="rotate(0 606.5 314)" stroke="#1a1a1a" stroke-width="0.3" fill="#1a1a1a" />
<ellipse cx="627" cy="325" rx="0.6" ry="0.6" transform="rotate(0 627 325)" stroke="#1a1a1a" stroke-width="0.3" fill="#1a1a1a" />
<ellipse cx="617.5" cy="335" rx="12.5" ry="8.2" transform="rotate(59 617.5 335)" stroke="#1a1a1a" stroke-width="0.9" fill="#fff" />
<ellipse cx="601.8" cy="331" rx="2.4" ry="2" transform="rotate(40 601.8 331)" stroke="#1a1a1a" stroke-width="0.9" fill="#fff" />
<ellipse cx="618.6" cy="345" rx="2.4" ry="2" transform="rotate(40 618.6 345)" stroke="#1a1a1a" stroke-width="0.9" fill="#fff" />
<path d="M601,329 L604,328.5 L619.5,343 L619.8,346.8 L617,347 L602,333Z" stroke="#1a1a1a" stroke-width="0" fill="#fff" />
<line x1="601" y1="329" x2="606" y2="329.5" stroke="#1a1a1a" stroke-width="0.8"/>
<line x1="616" y1="346.8" x2="619.5" y2="346.8" stroke="#1a1a1a" stroke-width="0.8"/>
<ellipse cx="611" cy="338" rx="8.6" ry="6.6" transform="rotate(50 611 338)" stroke="#1a1a1a" stroke-width="1.0" fill="#fff" />
<ellipse cx="611" cy="338" rx="6.4" ry="4.9" transform="rotate(50 611 338)" stroke="#1a1a1a" stroke-width="0.8" fill="none" />
<ellipse cx="611.2" cy="338.2" rx="4.2" ry="3.2" transform="rotate(50 611.2 338.2)" stroke="#1a1a1a" stroke-width="0.9" fill="none" />
<ellipse cx="611.4" cy="338.4" rx="2.2" ry="1.7" transform="rotate(50 611.4 338.4)" stroke="#1a1a1a" stroke-width="0.8" fill="none" />
<ellipse cx="601.8" cy="331" rx="1" ry="0.8" transform="rotate(40 601.8 331)" stroke="#1a1a1a" stroke-width="0.6" fill="none" />
<ellipse cx="618.6" cy="345" rx="1" ry="0.8" transform="rotate(40 618.6 345)" stroke="#1a1a1a" stroke-width="0.6" fill="none" />
<line x1="605" y1="333" x2="607" y2="336" stroke="#1a1a1a" stroke-width="1.3"/>
<ellipse cx="629.2" cy="347.2" rx="4.5" ry="5.6" transform="rotate(-25 629.2 347.2)" stroke="#1a1a1a" stroke-width="0.9" fill="#fff" />
<path d="M627,344.5 L629.5,343.5 L631,345.5 L630,348 L627.5,348 Z" stroke="#1a1a1a" stroke-width="0.7" fill="#666" />
<line x1="580" y1="355" x2="604" y2="342.5" stroke="#1a1a1a" stroke-width="0.5" stroke-dasharray="4,2,1,2"/>
<line x1="610" y1="356" x2="622.5" y2="349" stroke="#1a1a1a" stroke-width="0.5" stroke-dasharray="3,2"/>
<path d="M586,368.7 L609.4,356.6 L610.2,358.3 L586.8,370.4Z" stroke="#1a1a1a" stroke-width="0.7" fill="#fff" />
<line x1="590" y1="366.6" x2="590.5" y2="368.7" stroke="#1a1a1a" stroke-width="0.6"/>
<line x1="591.3" y1="365.93" x2="591.8" y2="368.03" stroke="#1a1a1a" stroke-width="0.6"/>
<line x1="592.6" y1="365.26" x2="593.1" y2="367.36" stroke="#1a1a1a" stroke-width="0.6"/>
<line x1="593.9" y1="364.58" x2="594.4" y2="366.68" stroke="#1a1a1a" stroke-width="0.6"/>
<line x1="595.2" y1="363.91" x2="595.7" y2="366.01" stroke="#1a1a1a" stroke-width="0.6"/>
<line x1="596.5" y1="363.24" x2="597" y2="365.34" stroke="#1a1a1a" stroke-width="0.6"/>
<line x1="597.8" y1="362.57" x2="598.3" y2="364.67" stroke="#1a1a1a" stroke-width="0.6"/>
<line x1="599.1" y1="361.9" x2="599.6" y2="364" stroke="#1a1a1a" stroke-width="0.6"/>
<line x1="600.4" y1="361.22" x2="600.9" y2="363.32" stroke="#1a1a1a" stroke-width="0.6"/>
<line x1="601.7" y1="360.55" x2="602.2" y2="362.65" stroke="#1a1a1a" stroke-width="0.6"/>
<line x1="603" y1="359.88" x2="603.5" y2="361.98" stroke="#1a1a1a" stroke-width="0.6"/>
<line x1="604.3" y1="359.21" x2="604.8" y2="361.31" stroke="#1a1a1a" stroke-width="0.6"/>
<line x1="605.6" y1="358.54" x2="606.1" y2="360.64" stroke="#1a1a1a" stroke-width="0.6"/>
<line x1="606.9" y1="357.86" x2="607.4" y2="359.96" stroke="#1a1a1a" stroke-width="0.6"/>
<line x1="608.2" y1="357.19" x2="608.7" y2="359.29" stroke="#1a1a1a" stroke-width="0.6"/>
<line x1="609.5" y1="356.52" x2="610" y2="358.62" stroke="#1a1a1a" stroke-width="0.6"/>
<line x1="589.5" y1="367.3" x2="610" y2="356.7" stroke="#1a1a1a" stroke-width="0.6"/>
<ellipse cx="584.6" cy="370.3" rx="1.8" ry="2.3" transform="rotate(30 584.6 370.3)" stroke="#1a1a1a" stroke-width="0.9" fill="#fff" />
<ellipse cx="584.6" cy="370.3" rx="0.8" ry="1.1" transform="rotate(30 584.6 370.3)" stroke="#1a1a1a" stroke-width="0.5" fill="none" />
<ellipse cx="640.5" cy="305.5" rx="17" ry="7.4" transform="rotate(-16 640.5 305.5)" stroke="#1a1a1a" stroke-width="0.9" fill="#fff" />
<ellipse cx="641" cy="307.2" rx="17" ry="7.4" transform="rotate(-16 641 307.2)" stroke="#1a1a1a" stroke-width="0.9" fill="none" />
<path d="M655.8,301.58 L656.49,302.13 L657.02,302.75 L657.37,303.43 L657.55,304.16 L657.55,304.94 L657.37,305.76 L657.02,306.6 L656.49,307.46 L655.8,308.33 L654.95,309.2 L653.95,310.06 L652.81,310.9 L651.54,311.72 L650.16,312.49 L648.69,313.22 L647.13,313.9 L645.51,314.51 L643.85,315.06 L642.15,315.53 L640.45,315.92 L638.76,316.23 L637.09,316.45 L635.47,316.58 L633.91,316.63 L632.44,316.58 L631.06,316.44 L629.8,316.21 L628.66,315.89 L627.66,315.5 L626.8,315.02" stroke="#1a1a1a" stroke-width="1.3" fill="none" />
<path d="M653,301.92 L653.07,302.44 L653.01,302.99 L652.81,303.58 L652.48,304.18 L652.01,304.8 L651.42,305.43 L650.71,306.05 L649.89,306.67 L648.96,307.28 L647.94,307.87 L646.84,308.43 L645.67,308.96 L644.45,309.46 L643.18,309.91 L641.88,310.31 L640.56,310.65 L639.25,310.95 L637.95,311.18 L636.68,311.35 L635.45,311.45 L634.27,311.49 L633.16,311.47 L632.14,311.38 L631.2,311.22 L630.37,311.01 L629.64,310.73 L629.04,310.39 L628.56,310 L628.22,309.57 L628,309.08" stroke="#1a1a1a" stroke-width="0.7" fill="none" />
<path d="M620,282 C622,276 629,273 636,273.8 C643,274.8 647.5,279.5 648.5,286 L649,301 C646,305 640,306.5 634,305 L628,300 Z" stroke="#1a1a1a" stroke-width="0.9" fill="#fff" />
<path d="M645.5,279.5 C645.88,280.42 647.3,282.75 647.8,285 C648.3,287.25 648.47,290.25 648.5,293 C648.53,295.75 648.08,300.08 648,301.5" stroke="#1a1a1a" stroke-width="2.0" fill="none" />
<path d="M628,300.5 C629,301.17 631.83,303.67 634,304.5 C636.17,305.33 638.67,305.92 641,305.5 C643.33,305.08 646.83,302.58 648,302" stroke="#1a1a1a" stroke-width="0.8" fill="none" />
<ellipse cx="619.8" cy="291.2" rx="16" ry="11.8" transform="rotate(60 619.8 291.2)" stroke="#1a1a1a" stroke-width="1.0" fill="#fff" />
<ellipse cx="620.3" cy="290.9" rx="12.6" ry="9.2" transform="rotate(60 620.3 290.9)" stroke="#1a1a1a" stroke-width="0.8" fill="none" />
<ellipse cx="619.5" cy="291.8" rx="9.2" ry="6.6" transform="rotate(60 619.5 291.8)" stroke="#1a1a1a" stroke-width="1.0" fill="#fff" />
<path d="M613,286.5 C615,283.5 619,283 622,284.5 L620.5,286.5 C618,286 615.5,286.8 614.3,289 Z" stroke="#1a1a1a" stroke-width="0.5" fill="#1a1a1a" />
<line x1="619.5" y1="298" x2="617" y2="297" stroke="#1a1a1a" stroke-width="0.5"/>
<ellipse cx="623.36" cy="304.55" rx="0.6" ry="0.6" transform="rotate(0 623.36 304.55)" stroke="#1a1a1a" stroke-width="0.4" fill="#1a1a1a" />
<ellipse cx="608.83" cy="291.93" rx="0.6" ry="0.6" transform="rotate(0 608.83 291.93)" stroke="#1a1a1a" stroke-width="0.4" fill="#1a1a1a" />
<ellipse cx="616.24" cy="277.85" rx="0.6" ry="0.6" transform="rotate(0 616.24 277.85)" stroke="#1a1a1a" stroke-width="0.4" fill="#1a1a1a" />
<ellipse cx="630.77" cy="290.47" rx="0.6" ry="0.6" transform="rotate(0 630.77 290.47)" stroke="#1a1a1a" stroke-width="0.4" fill="#1a1a1a" />
<line x1="550" y1="294.4" x2="568" y2="284" stroke="#1a1a1a" stroke-width="0.5" stroke-dasharray="4,2,1,2"/>
<line x1="568" y1="284" x2="600" y2="302" stroke="#1a1a1a" stroke-width="0.5" stroke-dasharray="4,2,1,2"/>
<path d="M571.5,410.6 L578,413.1 L578,432.6 L571.5,430.1Z" stroke="#1a1a1a" stroke-width="0.9" fill="#fff" />
<line x1="572.7" y1="412.1" x2="576.8" y2="415.4" stroke="#333" stroke-width="0.7"/>
<line x1="572.7" y1="414.3" x2="576.8" y2="417.6" stroke="#333" stroke-width="0.7"/>
<line x1="572.7" y1="416.5" x2="576.8" y2="419.8" stroke="#333" stroke-width="0.7"/>
<line x1="572.7" y1="418.7" x2="576.8" y2="422" stroke="#333" stroke-width="0.7"/>
<line x1="572.7" y1="420.9" x2="576.8" y2="424.2" stroke="#333" stroke-width="0.7"/>
<line x1="572.7" y1="423.1" x2="576.8" y2="426.4" stroke="#333" stroke-width="0.7"/>
<line x1="572.7" y1="425.3" x2="576.8" y2="428.6" stroke="#333" stroke-width="0.7"/>
<line x1="572.7" y1="427.5" x2="576.8" y2="430.8" stroke="#333" stroke-width="0.7"/>
<line x1="574.75" y1="412.85" x2="574.75" y2="430.35" stroke="#444" stroke-width="0.5"/>
<path d="M579.8,415.6 L587.3,418.6 L587.3,438.1 L579.8,435.1Z" stroke="#1a1a1a" stroke-width="0.9" fill="#fff" />
<line x1="581" y1="417.1" x2="586.1" y2="420.9" stroke="#333" stroke-width="0.7"/>
<line x1="581" y1="419.3" x2="586.1" y2="423.1" stroke="#333" stroke-width="0.7"/>
<line x1="581" y1="421.5" x2="586.1" y2="425.3" stroke="#333" stroke-width="0.7"/>
<line x1="581" y1="423.7" x2="586.1" y2="427.5" stroke="#333" stroke-width="0.7"/>
<line x1="581" y1="425.9" x2="586.1" y2="429.7" stroke="#333" stroke-width="0.7"/>
<line x1="581" y1="428.1" x2="586.1" y2="431.9" stroke="#333" stroke-width="0.7"/>
<line x1="581" y1="430.3" x2="586.1" y2="434.1" stroke="#333" stroke-width="0.7"/>
<line x1="581" y1="432.5" x2="586.1" y2="436.3" stroke="#333" stroke-width="0.7"/>
<line x1="583.55" y1="418.1" x2="583.55" y2="435.6" stroke="#444" stroke-width="0.5"/>
<path d="M653,455 L659.5,457.5 L659.5,478.5 L653,476Z" stroke="#1a1a1a" stroke-width="0.9" fill="#fff" />
<line x1="654.2" y1="456.5" x2="658.3" y2="459.8" stroke="#333" stroke-width="0.7"/>
<line x1="654.2" y1="458.7" x2="658.3" y2="462" stroke="#333" stroke-width="0.7"/>
<line x1="654.2" y1="460.9" x2="658.3" y2="464.2" stroke="#333" stroke-width="0.7"/>
<line x1="654.2" y1="463.1" x2="658.3" y2="466.4" stroke="#333" stroke-width="0.7"/>
<line x1="654.2" y1="465.3" x2="658.3" y2="468.6" stroke="#333" stroke-width="0.7"/>
<line x1="654.2" y1="467.5" x2="658.3" y2="470.8" stroke="#333" stroke-width="0.7"/>
<line x1="654.2" y1="469.7" x2="658.3" y2="473" stroke="#333" stroke-width="0.7"/>
<line x1="654.2" y1="471.9" x2="658.3" y2="475.2" stroke="#333" stroke-width="0.7"/>
<line x1="654.2" y1="474.1" x2="658.3" y2="477.4" stroke="#333" stroke-width="0.7"/>
<line x1="656.25" y1="457.25" x2="656.25" y2="476.25" stroke="#444" stroke-width="0.5"/>
<path d="M661.5,459 L669,462 L669,483 L661.5,480Z" stroke="#1a1a1a" stroke-width="0.9" fill="#fff" />
<line x1="662.7" y1="460.5" x2="667.8" y2="464.3" stroke="#333" stroke-width="0.7"/>
<line x1="662.7" y1="462.7" x2="667.8" y2="466.5" stroke="#333" stroke-width="0.7"/>
<line x1="662.7" y1="464.9" x2="667.8" y2="468.7" stroke="#333" stroke-width="0.7"/>
<line x1="662.7" y1="467.1" x2="667.8" y2="470.9" stroke="#333" stroke-width="0.7"/>
<line x1="662.7" y1="469.3" x2="667.8" y2="473.1" stroke="#333" stroke-width="0.7"/>
<line x1="662.7" y1="471.5" x2="667.8" y2="475.3" stroke="#333" stroke-width="0.7"/>
<line x1="662.7" y1="473.7" x2="667.8" y2="477.5" stroke="#333" stroke-width="0.7"/>
<line x1="662.7" y1="475.9" x2="667.8" y2="479.7" stroke="#333" stroke-width="0.7"/>
<line x1="662.7" y1="478.1" x2="667.8" y2="481.9" stroke="#333" stroke-width="0.7"/>
<line x1="665.25" y1="461.5" x2="665.25" y2="480.5" stroke="#444" stroke-width="0.5"/>
<ellipse cx="593.5" cy="433.5" rx="0.5" ry="0.5" transform="rotate(0 593.5 433.5)" stroke="#1a1a1a" stroke-width="0.4" fill="#1a1a1a" />
<ellipse cx="647.5" cy="464" rx="0.5" ry="0.5" transform="rotate(0 647.5 464)" stroke="#1a1a1a" stroke-width="0.4" fill="#1a1a1a" />
<ellipse cx="621" cy="496.5" rx="0.5" ry="0.5" transform="rotate(0 621 496.5)" stroke="#1a1a1a" stroke-width="0.4" fill="#1a1a1a" />
<path d="M616.92,450.24 L630.92,444.24 L620.08,450.76 L606.08,456.76Z" stroke="#1a1a1a" stroke-width="0.9" fill="#fff" />
<line x1="618.92" y1="451.44" x2="629.92" y2="445.24" stroke="#1a1a1a" stroke-width="2.0"/>
<ellipse cx="613" cy="452.6" rx="15.39" ry="10.2" transform="rotate(59 613 452.6)" stroke="#1a1a1a" stroke-width="0.9" fill="#fff" />
<ellipse cx="611.5" cy="453.5" rx="15.39" ry="10.2" transform="rotate(59 611.5 453.5)" stroke="#1a1a1a" stroke-width="1.0" fill="#fff" />
<ellipse cx="611.8" cy="453.7" rx="11.39" ry="7.55" transform="rotate(59 611.8 453.7)" stroke="#1a1a1a" stroke-width="0.9" fill="none" />
<ellipse cx="611.8" cy="453.8" rx="7.08" ry="4.69" transform="rotate(59 611.8 453.8)" stroke="#1a1a1a" stroke-width="0.9" fill="#fff" />
<clipPath id="c4"><ellipse cx="611.8" cy="453.8" rx="7.08" ry="4.69" transform="rotate(59 611.8 453.8)"/></clipPath>
<g clip-path="url(#c4)">
<ellipse cx="614.1" cy="452.5" rx="7.08" ry="4.69" transform="rotate(59 614.1 452.5)" stroke="#1a1a1a" stroke-width="1.6" fill="none" />
</g>
<ellipse cx="611" cy="464.85" rx="0.7" ry="0.8" transform="rotate(0 611 464.85)" stroke="#1a1a1a" stroke-width="0.5" fill="#1a1a1a" />
<ellipse cx="601.25" cy="448.61" rx="0.7" ry="0.8" transform="rotate(0 601.25 448.61)" stroke="#1a1a1a" stroke-width="0.5" fill="#1a1a1a" />
<ellipse cx="612" cy="442.15" rx="0.7" ry="0.8" transform="rotate(0 612 442.15)" stroke="#1a1a1a" stroke-width="0.5" fill="#1a1a1a" />
<ellipse cx="621.75" cy="458.39" rx="0.7" ry="0.8" transform="rotate(0 621.75 458.39)" stroke="#1a1a1a" stroke-width="0.5" fill="#1a1a1a" />
<path d="M594.6,491 L594.6,531 L598.4,533 L598.4,490" stroke="#1a1a1a" stroke-width="1.0" fill="#fff" />
<line x1="596.5" y1="492" x2="596.5" y2="531.5" stroke="#1a1a1a" stroke-width="0.6"/>
<line x1="588.5" y1="494.3" x2="599.8" y2="487.2" stroke="#1a1a1a" stroke-width="4.6"/>
<line x1="588.3" y1="493.4" x2="599.6" y2="486.3" stroke="#fff" stroke-width="2.2"/>
<line x1="588.8" y1="495.6" x2="600" y2="488.6" stroke="#888" stroke-width="0.6"/>
<ellipse cx="588" cy="494.6" rx="1.9" ry="2.4" transform="rotate(30 588 494.6)" stroke="#1a1a1a" stroke-width="1.0" fill="#fff" />
<path d="M604,511 L617,506 L630,536 L617,541.5Z" stroke="#1a1a1a" stroke-width="0" fill="#fff" />
<path d="M604,511 C604.83,510.5 607,508.75 609,508 C611,507.25 614.83,506.75 616,506.5" stroke="#1a1a1a" stroke-width="2.2" fill="none" />
<ellipse cx="617.5" cy="525.5" rx="12" ry="17.5" transform="rotate(-22 617.5 525.5)" stroke="#1a1a1a" stroke-width="1.0" fill="#fff" />
<path d="M612.5,513.5 C613.42,513.17 616.42,511.08 618,511.5 C619.58,511.92 621.33,513.92 622,516 C622.67,518.08 622.83,521.83 622,524 C621.17,526.17 617.83,528.17 617,529" stroke="#1a1a1a" stroke-width="0.7" fill="none" />
<line x1="604" y1="512" x2="600" y2="515" stroke="#1a1a1a" stroke-width="0.8"/>
<line x1="600" y1="515" x2="598.5" y2="520" stroke="#1a1a1a" stroke-width="0.8"/>
<line x1="596" y1="530" x2="640" y2="508" stroke="#1a1a1a" stroke-width="0.5" stroke-dasharray="4,2,1,2"/>
<path d="M640,497.5 C641,497.08 644.08,495.08 646,495 C647.92,494.92 650.08,495.67 651.5,497 C652.92,498.33 653.92,500.67 654.5,503 C655.08,505.33 655.17,508.5 655,511 C654.83,513.5 654.5,516 653.5,518 C652.5,520 649.75,522.17 649,523" stroke="#1a1a1a" stroke-width="0.9" fill="#fff" />
<path d="M649.5,497.5 C650,498.25 651.83,499.92 652.5,502 C653.17,504.08 653.55,507.5 653.5,510 C653.45,512.5 652.42,515.83 652.2,517" stroke="#1a1a1a" stroke-width="1.8" fill="none" />
<path d="M644.59,508.14 L654.59,504.14 L643.41,510.86 L633.41,514.86Z" stroke="#1a1a1a" stroke-width="0.9" fill="#fff" />
<ellipse cx="640.5" cy="510.6" rx="16.96" ry="10.52" transform="rotate(59 640.5 510.6)" stroke="#1a1a1a" stroke-width="0.9" fill="#fff" />
<ellipse cx="639" cy="511.5" rx="16.96" ry="10.52" transform="rotate(59 639 511.5)" stroke="#1a1a1a" stroke-width="1.0" fill="#fff" />
<ellipse cx="639.3" cy="511.7" rx="12.55" ry="7.78" transform="rotate(59 639.3 511.7)" stroke="#1a1a1a" stroke-width="0.9" fill="none" />
<ellipse cx="639.3" cy="511.8" rx="7.8" ry="4.84" transform="rotate(59 639.3 511.8)" stroke="#1a1a1a" stroke-width="0.9" fill="#fff" />
<clipPath id="c5"><ellipse cx="639.3" cy="511.8" rx="7.8" ry="4.84" transform="rotate(59 639.3 511.8)"/></clipPath>
<g clip-path="url(#c5)">
<ellipse cx="641.6" cy="510.5" rx="7.8" ry="4.84" transform="rotate(59 641.6 510.5)" stroke="#1a1a1a" stroke-width="1.6" fill="none" />
</g>
<ellipse cx="638.83" cy="523.78" rx="0.7" ry="0.8" transform="rotate(0 638.83 523.78)" stroke="#1a1a1a" stroke-width="0.5" fill="#1a1a1a" />
<ellipse cx="628.08" cy="505.89" rx="0.7" ry="0.8" transform="rotate(0 628.08 505.89)" stroke="#1a1a1a" stroke-width="0.5" fill="#1a1a1a" />
<ellipse cx="639.17" cy="499.22" rx="0.7" ry="0.8" transform="rotate(0 639.17 499.22)" stroke="#1a1a1a" stroke-width="0.5" fill="#1a1a1a" />
<ellipse cx="649.92" cy="517.11" rx="0.7" ry="0.8" transform="rotate(0 649.92 517.11)" stroke="#1a1a1a" stroke-width="0.5" fill="#1a1a1a" />
<line x1="630" y1="531" x2="645" y2="523" stroke="#1a1a1a" stroke-width="0.8"/>
<line x1="632" y1="533.5" x2="650" y2="524.5" stroke="#1a1a1a" stroke-width="0.8"/>
<line x1="491" y1="328" x2="500" y2="324" stroke="#1a1a1a" stroke-width="0.5" stroke-dasharray="4,2,1,2"/>
<line x1="521" y1="310.6" x2="550" y2="294.4" stroke="#1a1a1a" stroke-width="0.5" stroke-dasharray="4,2,1,2"/>
<ellipse cx="511.4" cy="316.5" rx="17.1" ry="10.35" transform="rotate(59 511.4 316.5)" stroke="#1a1a1a" stroke-width="0.9" fill="#fff" />
<ellipse cx="509.7" cy="317.5" rx="17.1" ry="10.35" transform="rotate(59 509.7 317.5)" stroke="#1a1a1a" stroke-width="1.0" fill="#fff" />
<ellipse cx="509.73" cy="307.04" rx="0.9" ry="1.1" transform="rotate(59 509.73 307.04)" stroke="#1a1a1a" stroke-width="0.7" fill="#fff" />
<ellipse cx="509.93" cy="307.24" rx="0.45" ry="0.55" transform="rotate(59 509.93 307.24)" stroke="#1a1a1a" stroke-width="0" fill="#1a1a1a" />
<ellipse cx="518.95" cy="322.38" rx="0.9" ry="1.1" transform="rotate(59 518.95 322.38)" stroke="#1a1a1a" stroke-width="0.7" fill="#fff" />
<ellipse cx="519.15" cy="322.58" rx="0.45" ry="0.55" transform="rotate(59 519.15 322.58)" stroke="#1a1a1a" stroke-width="0" fill="#1a1a1a" />
<ellipse cx="509.67" cy="327.96" rx="0.9" ry="1.1" transform="rotate(59 509.67 327.96)" stroke="#1a1a1a" stroke-width="0.7" fill="#fff" />
<ellipse cx="509.87" cy="328.16" rx="0.45" ry="0.55" transform="rotate(59 509.87 328.16)" stroke="#1a1a1a" stroke-width="0" fill="#1a1a1a" />
<ellipse cx="500.45" cy="312.62" rx="0.9" ry="1.1" transform="rotate(59 500.45 312.62)" stroke="#1a1a1a" stroke-width="0.7" fill="#fff" />
<ellipse cx="500.65" cy="312.82" rx="0.45" ry="0.55" transform="rotate(59 500.65 312.82)" stroke="#1a1a1a" stroke-width="0" fill="#1a1a1a" />
<ellipse cx="507.2" cy="318.4" rx="5.85" ry="4.5" transform="rotate(59 507.2 318.4)" stroke="#1a1a1a" stroke-width="0.9" fill="#fff" />
<path d="M510.21,323.41 L506.61,325.51 L500.59,315.49 L504.19,313.39Z" stroke="#1a1a1a" stroke-width="0" fill="#fff" />
<line x1="510.21" y1="323.41" x2="506.61" y2="325.51" stroke="#1a1a1a" stroke-width="1.6"/>
<line x1="504.19" y1="313.39" x2="500.59" y2="315.49" stroke="#1a1a1a" stroke-width="1.0"/>
<ellipse cx="503.6" cy="320.5" rx="5.85" ry="4.5" transform="rotate(59 503.6 320.5)" stroke="#1a1a1a" stroke-width="1.0" fill="#fff" />
<ellipse cx="503.4" cy="320.6" rx="3.63" ry="2.79" transform="rotate(59 503.4 320.6)" stroke="#1a1a1a" stroke-width="0.7" fill="none" />
<ellipse cx="542.7" cy="298.95" rx="10.4" ry="6.24" transform="rotate(59 542.7 298.95)" stroke="#1a1a1a" stroke-width="0.8" fill="#fff" />
<ellipse cx="541.9" cy="299.4" rx="10.4" ry="6.24" transform="rotate(59 541.9 299.4)" stroke="#1a1a1a" stroke-width="1.0" fill="#fff" />
<ellipse cx="542.2" cy="299.6" rx="5.98" ry="3.59" transform="rotate(59 542.2 299.6)" stroke="#1a1a1a" stroke-width="0.9" fill="none" />
<path d="M538.89,295.38 L539.04,294.96 L539.22,294.58 L539.46,294.25 L539.73,293.98 L540.04,293.76 L540.39,293.59 L540.76,293.49 L541.17,293.45 L541.59,293.47 L542.03,293.55 L542.49,293.69 L542.95,293.89 L543.41,294.15 L543.87,294.46 L544.32,294.82 L544.76,295.22 L545.17,295.67 L545.57,296.15 L545.93,296.67 L546.27,297.21 L546.57,297.77 L546.83,298.34 L547.05,298.92" stroke="#1a1a1a" stroke-width="0.9" fill="none" />
<line x1="515" y1="392.5" x2="521" y2="389" stroke="#1a1a1a" stroke-width="0.5" stroke-dasharray="3,2"/>
<line x1="535" y1="381" x2="545" y2="376" stroke="#1a1a1a" stroke-width="0.5" stroke-dasharray="3,2"/>
<line x1="555" y1="370" x2="580" y2="356" stroke="#1a1a1a" stroke-width="0.5" stroke-dasharray="4,2,1,2"/>
<ellipse cx="530" cy="384.2" rx="10.87" ry="6.52" transform="rotate(59 530 384.2)" stroke="#1a1a1a" stroke-width="0.9" fill="#fff" />
<ellipse cx="528.3" cy="385.2" rx="10.87" ry="6.52" transform="rotate(59 528.3 385.2)" stroke="#1a1a1a" stroke-width="1.0" fill="#fff" />
<ellipse cx="528.3" cy="378.57" rx="0.9" ry="1.1" transform="rotate(59 528.3 378.57)" stroke="#1a1a1a" stroke-width="0.7" fill="#fff" />
<ellipse cx="528.5" cy="378.77" rx="0.45" ry="0.55" transform="rotate(59 528.5 378.77)" stroke="#1a1a1a" stroke-width="0" fill="#1a1a1a" />
<ellipse cx="534.15" cy="388.32" rx="0.9" ry="1.1" transform="rotate(59 534.15 388.32)" stroke="#1a1a1a" stroke-width="0.7" fill="#fff" />
<ellipse cx="534.35" cy="388.52" rx="0.45" ry="0.55" transform="rotate(59 534.35 388.52)" stroke="#1a1a1a" stroke-width="0" fill="#1a1a1a" />
<ellipse cx="528.3" cy="391.83" rx="0.9" ry="1.1" transform="rotate(59 528.3 391.83)" stroke="#1a1a1a" stroke-width="0.7" fill="#fff" />
<ellipse cx="528.5" cy="392.03" rx="0.45" ry="0.55" transform="rotate(59 528.5 392.03)" stroke="#1a1a1a" stroke-width="0" fill="#1a1a1a" />
<ellipse cx="522.45" cy="382.08" rx="0.9" ry="1.1" transform="rotate(59 522.45 382.08)" stroke="#1a1a1a" stroke-width="0.7" fill="#fff" />
<ellipse cx="522.65" cy="382.28" rx="0.45" ry="0.55" transform="rotate(59 522.65 382.28)" stroke="#1a1a1a" stroke-width="0" fill="#1a1a1a" />
<ellipse cx="527" cy="385.8" rx="3.77" ry="2.9" transform="rotate(59 527 385.8)" stroke="#1a1a1a" stroke-width="0.9" fill="#fff" />
<path d="M528.94,389.03 L525.34,391.13 L521.46,384.67 L525.06,382.57Z" stroke="#1a1a1a" stroke-width="0" fill="#fff" />
<line x1="528.94" y1="389.03" x2="525.34" y2="391.13" stroke="#1a1a1a" stroke-width="1.6"/>
<line x1="525.06" y1="382.57" x2="521.46" y2="384.67" stroke="#1a1a1a" stroke-width="1.0"/>
<ellipse cx="523.4" cy="387.9" rx="3.77" ry="2.9" transform="rotate(59 523.4 387.9)" stroke="#1a1a1a" stroke-width="1.0" fill="#fff" />
<ellipse cx="523.2" cy="388" rx="2.34" ry="1.8" transform="rotate(59 523.2 388)" stroke="#1a1a1a" stroke-width="0.7" fill="none" />
<ellipse cx="550.4" cy="372.35" rx="6.97" ry="4.18" transform="rotate(59 550.4 372.35)" stroke="#1a1a1a" stroke-width="0.8" fill="#fff" />
<ellipse cx="549.6" cy="372.8" rx="6.97" ry="4.18" transform="rotate(59 549.6 372.8)" stroke="#1a1a1a" stroke-width="1.0" fill="#fff" />
<ellipse cx="549.9" cy="373" rx="3.61" ry="2.17" transform="rotate(59 549.9 373)" stroke="#1a1a1a" stroke-width="0.9" fill="none" />
<path d="M548.26,370.18 L548.35,369.92 L548.46,369.7 L548.6,369.5 L548.77,369.33 L548.95,369.2 L549.16,369.1 L549.39,369.04 L549.63,369.01 L549.89,369.02 L550.16,369.07 L550.43,369.16 L550.71,369.28 L550.99,369.43 L551.26,369.62 L551.54,369.84 L551.8,370.08 L552.05,370.35 L552.29,370.64 L552.51,370.95 L552.71,371.28 L552.89,371.62 L553.05,371.96 L553.18,372.31" stroke="#1a1a1a" stroke-width="0.9" fill="none" />
<line x1="514" y1="509" x2="520" y2="505.5" stroke="#1a1a1a" stroke-width="0.5" stroke-dasharray="3,2"/>
<line x1="537.5" y1="495.6" x2="550" y2="489" stroke="#1a1a1a" stroke-width="0.5" stroke-dasharray="4,2,1,2"/>
<line x1="564" y1="480.6" x2="600" y2="461" stroke="#1a1a1a" stroke-width="0.5" stroke-dasharray="4,2,1,2"/>
<ellipse cx="529.7" cy="500" rx="15.32" ry="9.44" transform="rotate(59 529.7 500)" stroke="#1a1a1a" stroke-width="0.9" fill="#fff" />
<ellipse cx="528" cy="501" rx="15.32" ry="9.44" transform="rotate(59 528 501)" stroke="#1a1a1a" stroke-width="1.0" fill="#fff" />
<ellipse cx="528.11" cy="491.59" rx="0.9" ry="1.1" transform="rotate(59 528.11 491.59)" stroke="#1a1a1a" stroke-width="0.7" fill="#fff" />
<ellipse cx="528.31" cy="491.79" rx="0.45" ry="0.55" transform="rotate(59 528.31 491.79)" stroke="#1a1a1a" stroke-width="0" fill="#1a1a1a" />
<ellipse cx="536.36" cy="505.33" rx="0.9" ry="1.1" transform="rotate(59 536.36 505.33)" stroke="#1a1a1a" stroke-width="0.7" fill="#fff" />
<ellipse cx="536.56" cy="505.53" rx="0.45" ry="0.55" transform="rotate(59 536.56 505.53)" stroke="#1a1a1a" stroke-width="0" fill="#1a1a1a" />
<ellipse cx="527.89" cy="510.41" rx="0.9" ry="1.1" transform="rotate(59 527.89 510.41)" stroke="#1a1a1a" stroke-width="0.7" fill="#fff" />
<ellipse cx="528.09" cy="510.61" rx="0.45" ry="0.55" transform="rotate(59 528.09 510.61)" stroke="#1a1a1a" stroke-width="0" fill="#1a1a1a" />
<ellipse cx="519.64" cy="496.67" rx="0.9" ry="1.1" transform="rotate(59 519.64 496.67)" stroke="#1a1a1a" stroke-width="0.7" fill="#fff" />
<ellipse cx="519.84" cy="496.87" rx="0.45" ry="0.55" transform="rotate(59 519.84 496.87)" stroke="#1a1a1a" stroke-width="0" fill="#1a1a1a" />
<ellipse cx="526" cy="501.9" rx="5.85" ry="4.5" transform="rotate(59 526 501.9)" stroke="#1a1a1a" stroke-width="0.9" fill="#fff" />
<path d="M529.01,506.91 L525.41,509.01 L519.39,498.99 L522.99,496.89Z" stroke="#1a1a1a" stroke-width="0" fill="#fff" />
<line x1="529.01" y1="506.91" x2="525.41" y2="509.01" stroke="#1a1a1a" stroke-width="1.6"/>
<line x1="522.99" y1="496.89" x2="519.39" y2="498.99" stroke="#1a1a1a" stroke-width="1.0"/>
<ellipse cx="522.4" cy="504" rx="5.85" ry="4.5" transform="rotate(59 522.4 504)" stroke="#1a1a1a" stroke-width="1.0" fill="#fff" />
<ellipse cx="522.2" cy="504.1" rx="3.63" ry="2.79" transform="rotate(59 522.2 504.1)" stroke="#1a1a1a" stroke-width="0.7" fill="none" />
<ellipse cx="557.8" cy="483.95" rx="9.2" ry="6.17" transform="rotate(59 557.8 483.95)" stroke="#1a1a1a" stroke-width="0.8" fill="#fff" />
<ellipse cx="557" cy="484.4" rx="9.2" ry="6.17" transform="rotate(59 557 484.4)" stroke="#1a1a1a" stroke-width="1.0" fill="#fff" />
<ellipse cx="557.3" cy="484.6" rx="4.89" ry="3.16" transform="rotate(59 557.3 484.6)" stroke="#1a1a1a" stroke-width="0.9" fill="none" />
<path d="M554.66,481.08 L554.8,480.72 L554.97,480.4 L555.18,480.12 L555.42,479.89 L555.7,479.69 L556,479.55 L556.33,479.45 L556.68,479.4 L557.05,479.41 L557.43,479.46 L557.81,479.57 L558.21,479.72 L558.6,479.92 L558.99,480.17 L559.37,480.46 L559.73,480.78 L560.08,481.15 L560.41,481.54 L560.71,481.96 L560.98,482.4 L561.23,482.86 L561.44,483.33 L561.61,483.81" stroke="#1a1a1a" stroke-width="0.9" fill="none" />
<line x1="524" y1="577" x2="530" y2="573" stroke="#1a1a1a" stroke-width="0.5" stroke-dasharray="3,2"/>
<line x1="551" y1="560.6" x2="564" y2="554" stroke="#1a1a1a" stroke-width="0.5" stroke-dasharray="4,2,1,2"/>
<line x1="580" y1="544" x2="593" y2="537.5" stroke="#1a1a1a" stroke-width="0.5" stroke-dasharray="4,2,1,2"/>
<ellipse cx="542.3" cy="566.5" rx="16.45" ry="11.04" transform="rotate(59 542.3 566.5)" stroke="#1a1a1a" stroke-width="0.9" fill="#fff" />
<ellipse cx="540.6" cy="567.5" rx="16.45" ry="11.04" transform="rotate(59 540.6 567.5)" stroke="#1a1a1a" stroke-width="1.0" fill="#fff" />
<ellipse cx="541.12" cy="557.15" rx="0.9" ry="1.1" transform="rotate(59 541.12 557.15)" stroke="#1a1a1a" stroke-width="0.7" fill="#fff" />
<ellipse cx="541.32" cy="557.35" rx="0.45" ry="0.55" transform="rotate(59 541.32 557.35)" stroke="#1a1a1a" stroke-width="0" fill="#1a1a1a" />
<ellipse cx="549.98" cy="571.9" rx="0.9" ry="1.1" transform="rotate(59 549.98 571.9)" stroke="#1a1a1a" stroke-width="0.7" fill="#fff" />
<ellipse cx="550.18" cy="572.1" rx="0.45" ry="0.55" transform="rotate(59 550.18 572.1)" stroke="#1a1a1a" stroke-width="0" fill="#1a1a1a" />
<ellipse cx="540.08" cy="577.85" rx="0.9" ry="1.1" transform="rotate(59 540.08 577.85)" stroke="#1a1a1a" stroke-width="0.7" fill="#fff" />
<ellipse cx="540.28" cy="578.05" rx="0.45" ry="0.55" transform="rotate(59 540.28 578.05)" stroke="#1a1a1a" stroke-width="0" fill="#1a1a1a" />
<ellipse cx="531.22" cy="563.1" rx="0.9" ry="1.1" transform="rotate(59 531.22 563.1)" stroke="#1a1a1a" stroke-width="0.7" fill="#fff" />
<ellipse cx="531.42" cy="563.3" rx="0.45" ry="0.55" transform="rotate(59 531.42 563.3)" stroke="#1a1a1a" stroke-width="0" fill="#1a1a1a" />
<ellipse cx="537.6" cy="568.4" rx="5.85" ry="4.5" transform="rotate(59 537.6 568.4)" stroke="#1a1a1a" stroke-width="0.9" fill="#fff" />
<path d="M540.61,573.41 L537.01,575.51 L530.99,565.49 L534.59,563.39Z" stroke="#1a1a1a" stroke-width="0" fill="#fff" />
<line x1="540.61" y1="573.41" x2="537.01" y2="575.51" stroke="#1a1a1a" stroke-width="1.6"/>
<line x1="534.59" y1="563.39" x2="530.99" y2="565.49" stroke="#1a1a1a" stroke-width="1.0"/>
<ellipse cx="534" cy="570.5" rx="5.85" ry="4.5" transform="rotate(59 534 570.5)" stroke="#1a1a1a" stroke-width="1.0" fill="#fff" />
<ellipse cx="533.8" cy="570.6" rx="3.63" ry="2.79" transform="rotate(59 533.8 570.6)" stroke="#1a1a1a" stroke-width="0.7" fill="none" />
<ellipse cx="573.3" cy="548.05" rx="10.08" ry="6.15" transform="rotate(59 573.3 548.05)" stroke="#1a1a1a" stroke-width="0.8" fill="#fff" />
<ellipse cx="572.5" cy="548.5" rx="10.08" ry="6.15" transform="rotate(59 572.5 548.5)" stroke="#1a1a1a" stroke-width="1.0" fill="#fff" />
<ellipse cx="572.8" cy="548.7" rx="6.05" ry="3.63" transform="rotate(59 572.8 548.7)" stroke="#1a1a1a" stroke-width="0.9" fill="none" />
<path d="M569.45,544.44 L569.59,544.02 L569.78,543.64 L570.02,543.3 L570.29,543.02 L570.61,542.8 L570.96,542.64 L571.34,542.53 L571.75,542.49 L572.18,542.51 L572.62,542.59 L573.08,542.73 L573.55,542.93 L574.01,543.19 L574.48,543.51 L574.93,543.87 L575.37,544.28 L575.8,544.73 L576.2,545.22 L576.57,545.74 L576.9,546.29 L577.21,546.85 L577.47,547.43 L577.69,548.02" stroke="#1a1a1a" stroke-width="0.9" fill="none" />
<text x="537.5" y="237.9" font-size="6.3" textLength="10" lengthAdjust="spacingAndGlyphs" fill="#111" font-weight="bold">087</text>
<text x="500" y="259.1" font-size="6.3" textLength="10.2" lengthAdjust="spacingAndGlyphs" fill="#111" font-weight="bold">086</text>
<text x="541" y="338.2" font-size="6.3" textLength="9.8" lengthAdjust="spacingAndGlyphs" fill="#111" font-weight="bold">081</text>
<text x="517" y="352.2" font-size="6.3" textLength="10" lengthAdjust="spacingAndGlyphs" fill="#111" font-weight="bold">080</text>
<text x="595.4" y="395.7" font-size="6.3" textLength="10" lengthAdjust="spacingAndGlyphs" fill="#111" font-weight="bold">079</text>
<text x="629.4" y="427.4" font-size="6.3" textLength="10.2" lengthAdjust="spacingAndGlyphs" fill="#111" font-weight="bold">054</text>
<text x="548" y="451.2" font-size="6.3" textLength="10.2" lengthAdjust="spacingAndGlyphs" fill="#111" font-weight="bold">084</text>
<text x="715" y="474.2" font-size="6.3" textLength="10.4" lengthAdjust="spacingAndGlyphs" fill="#111" font-weight="bold">054</text>
<text x="515" y="470.7" font-size="6.3" textLength="10.2" lengthAdjust="spacingAndGlyphs" fill="#111" font-weight="bold">083</text>
<text x="572.5" y="598.2" font-size="6.3" textLength="10" lengthAdjust="spacingAndGlyphs" fill="#111" font-weight="bold">087</text>
<text x="537" y="619.1" font-size="6.3" textLength="10.2" lengthAdjust="spacingAndGlyphs" fill="#111" font-weight="bold">086</text>
<line x1="542.1" y1="240.6" x2="542.1" y2="289.5" stroke="#666" stroke-width="0.5" stroke-dasharray="2,1"/>
<line x1="505" y1="262.5" x2="505" y2="302" stroke="#666" stroke-width="0.5"/>
<line x1="545.9" y1="340.6" x2="545.9" y2="366" stroke="#555" stroke-width="0.5" stroke-dasharray="1.2,1"/>
<line x1="522.5" y1="353.8" x2="522.5" y2="375" stroke="#666" stroke-width="0.5"/>
<line x1="600.2" y1="363.8" x2="600.2" y2="386.3" stroke="#333" stroke-width="0.6"/>
<line x1="582.5" y1="425.4" x2="626" y2="425.4" stroke="#333" stroke-width="0.6"/>
<line x1="553" y1="453.8" x2="553" y2="476" stroke="#666" stroke-width="0.5"/>
<line x1="668.5" y1="471.5" x2="712" y2="471.5" stroke="#333" stroke-width="0.6"/>
<line x1="520" y1="473" x2="520" y2="488.5" stroke="#666" stroke-width="0.5"/>
<line x1="577.5" y1="557.5" x2="577.5" y2="591" stroke="#666" stroke-width="0.5"/>
<line x1="542.5" y1="582.5" x2="542.5" y2="611" stroke="#666" stroke-width="0.5"/>
</svg></body></html>
